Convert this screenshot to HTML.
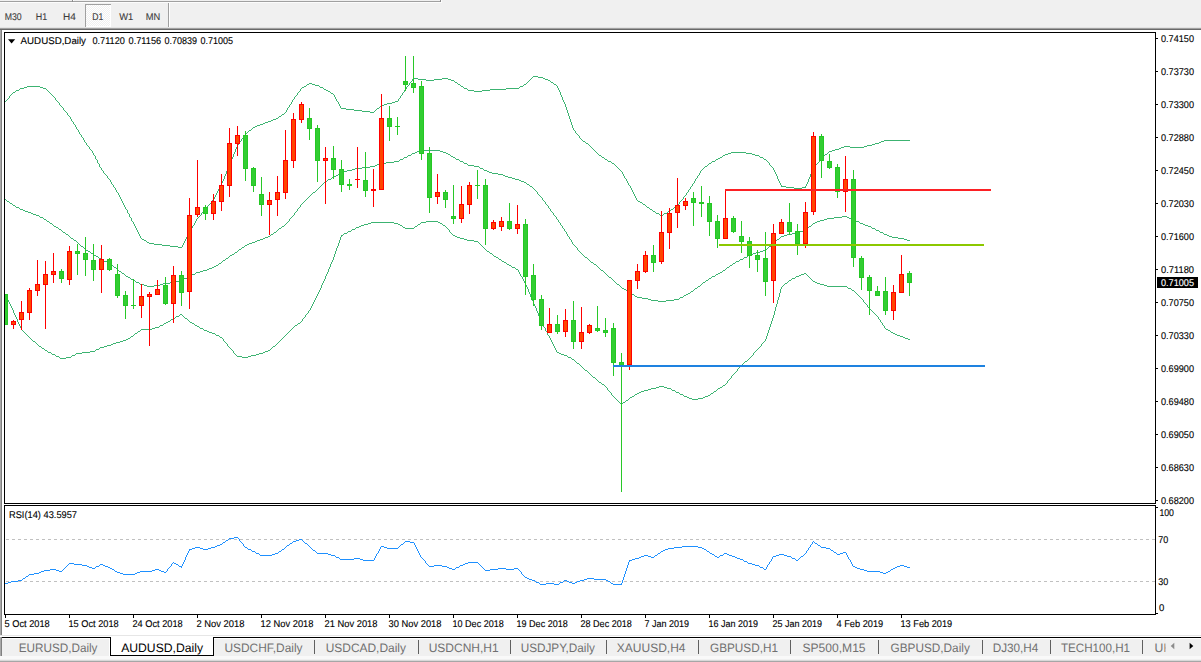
<!DOCTYPE html>
<html><head><meta charset="utf-8"><title>AUDUSD,Daily</title>
<style>html,body{margin:0;padding:0;background:#fff;overflow:hidden}svg{display:block}text{font-family:"Liberation Sans",sans-serif}</style>
</head><body>
<svg width="1201" height="662" viewBox="0 0 1201 662">
<defs><pattern id="chk" width="2" height="2" patternUnits="userSpaceOnUse"><rect width="2" height="2" fill="#f0f0f0"/><rect width="1" height="1" fill="#fff"/><rect x="1" y="1" width="1" height="1" fill="#fff"/></pattern>
<clipPath id="cp"><rect x="5" y="33" width="1150" height="470"/></clipPath></defs>
<rect width="1201" height="662" fill="#fff"/>
<g shape-rendering="crispEdges">
<rect x="0" y="0" width="1201" height="28" fill="#f0f0f0"/>
<rect x="0" y="1" width="441" height="1" fill="#a0a0a0"/>
<rect x="0" y="2" width="442" height="1" fill="#fcfcfc"/>
<rect x="72" y="0" width="1" height="2" fill="#8c8c8c"/><rect x="73" y="0" width="1" height="1" fill="#fff"/>
<rect x="440" y="0" width="1" height="2" fill="#8c8c8c"/><rect x="441" y="0" width="1" height="3" fill="#fcfcfc"/>
<rect x="0" y="27" width="1201" height="1" fill="#e3e3e3"/>
<rect x="0" y="28" width="1201" height="1" fill="#a0a0a0"/>
<rect x="0" y="29" width="1201" height="1" fill="#696969"/>
<rect x="85" y="4" width="26" height="23" fill="url(#chk)"/>
<rect x="85" y="4" width="26" height="1" fill="#a0a0a0"/><rect x="85" y="4" width="1" height="23" fill="#a0a0a0"/>
<rect x="110" y="5" width="1" height="22" fill="#fff"/><rect x="86" y="26" width="25" height="1" fill="#fff"/>
<rect x="168" y="3" width="1" height="24" fill="#a0a0a0"/><rect x="169" y="3" width="1" height="24" fill="#fff"/>
<rect x="0" y="30" width="1" height="606" fill="#a8a8a8"/><rect x="1" y="30" width="1" height="606" fill="#808080"/>
</g>
<text x="4.7" y="19.7" text-rendering="geometricPrecision" font-size="9.8" fill="#3c3c3c" stroke="#3c3c3c" stroke-width="0.1" textLength="17.0" lengthAdjust="spacingAndGlyphs">M30</text>
<text x="35.8" y="19.7" text-rendering="geometricPrecision" font-size="9.8" fill="#3c3c3c" stroke="#3c3c3c" stroke-width="0.1" textLength="11.4" lengthAdjust="spacingAndGlyphs">H1</text>
<text x="63" y="19.7" text-rendering="geometricPrecision" font-size="9.8" fill="#3c3c3c" stroke="#3c3c3c" stroke-width="0.1" textLength="12.8" lengthAdjust="spacingAndGlyphs">H4</text>
<text x="92.2" y="19.7" text-rendering="geometricPrecision" font-size="9.8" fill="#3c3c3c" stroke="#3c3c3c" stroke-width="0.1" textLength="11.1" lengthAdjust="spacingAndGlyphs">D1</text>
<text x="119.2" y="19.7" text-rendering="geometricPrecision" font-size="9.8" fill="#3c3c3c" stroke="#3c3c3c" stroke-width="0.1" textLength="14.1" lengthAdjust="spacingAndGlyphs">W1</text>
<text x="145.8" y="19.7" text-rendering="geometricPrecision" font-size="9.8" fill="#3c3c3c" stroke="#3c3c3c" stroke-width="0.1" textLength="14.5" lengthAdjust="spacingAndGlyphs">MN</text>
<g shape-rendering="crispEdges" fill="#000">
<rect x="4" y="32" width="1152" height="1"/>
<rect x="4" y="32" width="1" height="472"/>
<rect x="4" y="503" width="1152" height="1"/>
<rect x="1155" y="32" width="1" height="472"/>
<rect x="4" y="505" width="1152" height="1"/>
<rect x="4" y="505" width="1" height="110"/>
<rect x="4" y="614" width="1152" height="1"/>
<rect x="1155" y="505" width="1" height="110"/>
<rect x="1156" y="38" width="2" height="1"/>
<rect x="1156" y="71" width="2" height="1"/>
<rect x="1156" y="104" width="2" height="1"/>
<rect x="1156" y="137" width="2" height="1"/>
<rect x="1156" y="170" width="2" height="1"/>
<rect x="1156" y="203" width="2" height="1"/>
<rect x="1156" y="236" width="2" height="1"/>
<rect x="1156" y="269" width="2" height="1"/>
<rect x="1156" y="302" width="2" height="1"/>
<rect x="1156" y="335" width="2" height="1"/>
<rect x="1156" y="368" width="2" height="1"/>
<rect x="1156" y="401" width="2" height="1"/>
<rect x="1156" y="434" width="2" height="1"/>
<rect x="1156" y="467" width="2" height="1"/>
<rect x="1156" y="500" width="2" height="1"/>
<rect x="1156" y="507" width="2" height="1"/><rect x="1156" y="613" width="2" height="1"/>
<rect x="5" y="615" width="1" height="3"/>
<rect x="69" y="615" width="1" height="3"/>
<rect x="133" y="615" width="1" height="3"/>
<rect x="197" y="615" width="1" height="3"/>
<rect x="261" y="615" width="1" height="3"/>
<rect x="325" y="615" width="1" height="3"/>
<rect x="389" y="615" width="1" height="3"/>
<rect x="453" y="615" width="1" height="3"/>
<rect x="517" y="615" width="1" height="3"/>
<rect x="581" y="615" width="1" height="3"/>
<rect x="645" y="615" width="1" height="3"/>
<rect x="709" y="615" width="1" height="3"/>
<rect x="773" y="615" width="1" height="3"/>
<rect x="837" y="615" width="1" height="3"/>
<rect x="901" y="615" width="1" height="3"/>
<rect x="1157" y="277" width="41" height="11"/>
</g>
<text x="1161" y="42" text-rendering="geometricPrecision" font-size="9.8" fill="#000" stroke="#000" stroke-width="0.12" textLength="33" lengthAdjust="spacingAndGlyphs">0.74150</text>
<text x="1161" y="75" text-rendering="geometricPrecision" font-size="9.8" fill="#000" stroke="#000" stroke-width="0.12" textLength="33" lengthAdjust="spacingAndGlyphs">0.73730</text>
<text x="1161" y="108" text-rendering="geometricPrecision" font-size="9.8" fill="#000" stroke="#000" stroke-width="0.12" textLength="33" lengthAdjust="spacingAndGlyphs">0.73300</text>
<text x="1161" y="141" text-rendering="geometricPrecision" font-size="9.8" fill="#000" stroke="#000" stroke-width="0.12" textLength="33" lengthAdjust="spacingAndGlyphs">0.72880</text>
<text x="1161" y="174" text-rendering="geometricPrecision" font-size="9.8" fill="#000" stroke="#000" stroke-width="0.12" textLength="33" lengthAdjust="spacingAndGlyphs">0.72450</text>
<text x="1161" y="207" text-rendering="geometricPrecision" font-size="9.8" fill="#000" stroke="#000" stroke-width="0.12" textLength="33" lengthAdjust="spacingAndGlyphs">0.72030</text>
<text x="1161" y="240" text-rendering="geometricPrecision" font-size="9.8" fill="#000" stroke="#000" stroke-width="0.12" textLength="33" lengthAdjust="spacingAndGlyphs">0.71600</text>
<text x="1161" y="273" text-rendering="geometricPrecision" font-size="9.8" fill="#000" stroke="#000" stroke-width="0.12" textLength="33" lengthAdjust="spacingAndGlyphs">0.71180</text>
<text x="1161" y="306" text-rendering="geometricPrecision" font-size="9.8" fill="#000" stroke="#000" stroke-width="0.12" textLength="33" lengthAdjust="spacingAndGlyphs">0.70750</text>
<text x="1161" y="339" text-rendering="geometricPrecision" font-size="9.8" fill="#000" stroke="#000" stroke-width="0.12" textLength="33" lengthAdjust="spacingAndGlyphs">0.70330</text>
<text x="1161" y="372" text-rendering="geometricPrecision" font-size="9.8" fill="#000" stroke="#000" stroke-width="0.12" textLength="33" lengthAdjust="spacingAndGlyphs">0.69900</text>
<text x="1161" y="405" text-rendering="geometricPrecision" font-size="9.8" fill="#000" stroke="#000" stroke-width="0.12" textLength="33" lengthAdjust="spacingAndGlyphs">0.69480</text>
<text x="1161" y="438" text-rendering="geometricPrecision" font-size="9.8" fill="#000" stroke="#000" stroke-width="0.12" textLength="33" lengthAdjust="spacingAndGlyphs">0.69050</text>
<text x="1161" y="471" text-rendering="geometricPrecision" font-size="9.8" fill="#000" stroke="#000" stroke-width="0.12" textLength="33" lengthAdjust="spacingAndGlyphs">0.68630</text>
<text x="1161" y="504" text-rendering="geometricPrecision" font-size="9.8" fill="#000" stroke="#000" stroke-width="0.12" textLength="33" lengthAdjust="spacingAndGlyphs">0.68200</text>
<text x="1161" y="286.3" text-rendering="geometricPrecision" font-size="9.8" fill="#fff" stroke="#fff" stroke-width="0.12" textLength="33" lengthAdjust="spacingAndGlyphs">0.71005</text>
<text x="1159.4" y="516" text-rendering="geometricPrecision" font-size="9.8" fill="#000" stroke="#000" stroke-width="0.12" textLength="14.6" lengthAdjust="spacingAndGlyphs">100</text>
<text x="1158.2" y="543.2" text-rendering="geometricPrecision" font-size="9.8" fill="#000" stroke="#000" stroke-width="0.12" textLength="10" lengthAdjust="spacingAndGlyphs">70</text>
<text x="1158.2" y="585.3" text-rendering="geometricPrecision" font-size="9.8" fill="#000" stroke="#000" stroke-width="0.12" textLength="10" lengthAdjust="spacingAndGlyphs">30</text>
<text x="1158.9" y="611.2" text-rendering="geometricPrecision" font-size="9.8" fill="#000" stroke="#000" stroke-width="0.12" textLength="5.3" lengthAdjust="spacingAndGlyphs">0</text>
<text x="4.5" y="627" text-rendering="geometricPrecision" font-size="9.8" fill="#000" stroke="#000" stroke-width="0.12" textLength="45.2" lengthAdjust="spacingAndGlyphs">5 Oct 2018</text>
<text x="68.5" y="627" text-rendering="geometricPrecision" font-size="9.8" fill="#000" stroke="#000" stroke-width="0.12" textLength="50.2" lengthAdjust="spacingAndGlyphs">15 Oct 2018</text>
<text x="132.5" y="627" text-rendering="geometricPrecision" font-size="9.8" fill="#000" stroke="#000" stroke-width="0.12" textLength="50.2" lengthAdjust="spacingAndGlyphs">24 Oct 2018</text>
<text x="196.5" y="627" text-rendering="geometricPrecision" font-size="9.8" fill="#000" stroke="#000" stroke-width="0.12" textLength="48" lengthAdjust="spacingAndGlyphs">2 Nov 2018</text>
<text x="260.5" y="627" text-rendering="geometricPrecision" font-size="9.8" fill="#000" stroke="#000" stroke-width="0.12" textLength="53" lengthAdjust="spacingAndGlyphs">12 Nov 2018</text>
<text x="324.5" y="627" text-rendering="geometricPrecision" font-size="9.8" fill="#000" stroke="#000" stroke-width="0.12" textLength="53" lengthAdjust="spacingAndGlyphs">21 Nov 2018</text>
<text x="388.5" y="627" text-rendering="geometricPrecision" font-size="9.8" fill="#000" stroke="#000" stroke-width="0.12" textLength="53" lengthAdjust="spacingAndGlyphs">30 Nov 2018</text>
<text x="452.5" y="627" text-rendering="geometricPrecision" font-size="9.8" fill="#000" stroke="#000" stroke-width="0.12" textLength="51.3" lengthAdjust="spacingAndGlyphs">10 Dec 2018</text>
<text x="516.5" y="627" text-rendering="geometricPrecision" font-size="9.8" fill="#000" stroke="#000" stroke-width="0.12" textLength="51.3" lengthAdjust="spacingAndGlyphs">19 Dec 2018</text>
<text x="580.5" y="627" text-rendering="geometricPrecision" font-size="9.8" fill="#000" stroke="#000" stroke-width="0.12" textLength="51.3" lengthAdjust="spacingAndGlyphs">28 Dec 2018</text>
<text x="644.5" y="627" text-rendering="geometricPrecision" font-size="9.8" fill="#000" stroke="#000" stroke-width="0.12" textLength="44.6" lengthAdjust="spacingAndGlyphs">7 Jan 2019</text>
<text x="708.5" y="627" text-rendering="geometricPrecision" font-size="9.8" fill="#000" stroke="#000" stroke-width="0.12" textLength="49.6" lengthAdjust="spacingAndGlyphs">16 Jan 2019</text>
<text x="772.5" y="627" text-rendering="geometricPrecision" font-size="9.8" fill="#000" stroke="#000" stroke-width="0.12" textLength="49.6" lengthAdjust="spacingAndGlyphs">25 Jan 2019</text>
<text x="836.5" y="627" text-rendering="geometricPrecision" font-size="9.8" fill="#000" stroke="#000" stroke-width="0.12" textLength="46.7" lengthAdjust="spacingAndGlyphs">4 Feb 2019</text>
<text x="900.5" y="627" text-rendering="geometricPrecision" font-size="9.8" fill="#000" stroke="#000" stroke-width="0.12" textLength="51.7" lengthAdjust="spacingAndGlyphs">13 Feb 2019</text>
<path d="M8 39.2h7.2l-3.6 4.3z" fill="#000"/>
<text x="20.6" y="44" text-rendering="geometricPrecision" font-size="9.8" fill="#000" stroke="#000" stroke-width="0.12" textLength="65.4" lengthAdjust="spacingAndGlyphs">AUDUSD,Daily</text>
<text x="92.4" y="44" text-rendering="geometricPrecision" font-size="9.8" fill="#000" stroke="#000" stroke-width="0.12" textLength="32.5" lengthAdjust="spacingAndGlyphs">0.71120</text>
<text x="128.6" y="44" text-rendering="geometricPrecision" font-size="9.8" fill="#000" stroke="#000" stroke-width="0.12" textLength="32.5" lengthAdjust="spacingAndGlyphs">0.71156</text>
<text x="164.6" y="44" text-rendering="geometricPrecision" font-size="9.8" fill="#000" stroke="#000" stroke-width="0.12" textLength="32.5" lengthAdjust="spacingAndGlyphs">0.70839</text>
<text x="200.6" y="44" text-rendering="geometricPrecision" font-size="9.8" fill="#000" stroke="#000" stroke-width="0.12" textLength="32.5" lengthAdjust="spacingAndGlyphs">0.71005</text>
<text x="9" y="518" text-rendering="geometricPrecision" font-size="9.8" fill="#000" stroke="#000" stroke-width="0.12" textLength="68" lengthAdjust="spacingAndGlyphs">RSI(14) 43.5957</text>
<g clip-path="url(#cp)" shape-rendering="crispEdges">
<path d="M533 76h5v1h-5zM532 77h1v1h-1zM538 77h5v1h-5zM413 78h5v1h-5zM442 78h6v1h-6zM531 78h1v1h-1zM543 78h2v1h-2zM412 79h1v1h-1zM418 79h8v1h-8zM434 79h8v1h-8zM448 79h3v1h-3zM530 79h1v1h-1zM545 79h3v1h-3zM412 80h1v1h-1zM426 80h8v1h-8zM451 80h3v1h-3zM529 80h1v1h-1zM548 80h2v1h-2zM411 81h1v1h-1zM454 81h1v1h-1zM528 81h1v1h-1zM550 81h1v1h-1zM410 82h1v1h-1zM455 82h2v1h-2zM527 82h1v1h-1zM551 82h2v1h-2zM309 83h3v1h-3zM409 83h1v1h-1zM457 83h1v1h-1zM526 83h1v1h-1zM553 83h1v1h-1zM307 84h2v1h-2zM312 84h3v1h-3zM409 84h1v1h-1zM458 84h2v1h-2zM524 84h2v1h-2zM554 84h2v1h-2zM306 85h1v1h-1zM315 85h4v1h-4zM408 85h1v1h-1zM460 85h1v1h-1zM523 85h1v1h-1zM556 85h1v1h-1zM27 86h13v1h-13zM304 86h2v1h-2zM319 86h1v1h-1zM407 86h1v1h-1zM461 86h2v1h-2zM520 86h3v1h-3zM557 86h1v1h-1zM24 87h3v1h-3zM40 87h3v1h-3zM302 87h2v1h-2zM320 87h3v1h-3zM406 87h1v1h-1zM463 87h1v1h-1zM519 87h1v1h-1zM557 87h1v1h-1zM20 88h4v1h-4zM43 88h3v1h-3zM301 88h1v1h-1zM323 88h1v1h-1zM406 88h1v1h-1zM464 88h3v1h-3zM506 88h13v1h-13zM558 88h1v1h-1zM19 89h1v1h-1zM46 89h1v1h-1zM300 89h1v1h-1zM324 89h2v1h-2zM405 89h1v1h-1zM467 89h1v1h-1zM490 89h16v1h-16zM558 89h1v1h-1zM16 90h3v1h-3zM47 90h1v1h-1zM300 90h1v1h-1zM326 90h2v1h-2zM404 90h1v1h-1zM468 90h6v1h-6zM482 90h8v1h-8zM559 90h1v1h-1zM15 91h1v1h-1zM48 91h1v1h-1zM299 91h1v1h-1zM328 91h2v1h-2zM404 91h1v1h-1zM474 91h8v1h-8zM559 91h1v1h-1zM13 92h2v1h-2zM49 92h1v1h-1zM298 92h1v1h-1zM330 92h1v1h-1zM403 92h1v1h-1zM560 92h1v1h-1zM12 93h1v1h-1zM50 93h1v1h-1zM297 93h1v1h-1zM331 93h2v1h-2zM402 93h1v1h-1zM560 93h1v1h-1zM11 94h1v1h-1zM51 94h1v1h-1zM297 94h1v1h-1zM333 94h1v1h-1zM402 94h1v1h-1zM560 94h1v1h-1zM10 95h1v1h-1zM52 95h1v1h-1zM296 95h1v1h-1zM334 95h1v1h-1zM401 95h1v1h-1zM561 95h1v1h-1zM9 96h1v1h-1zM53 96h1v1h-1zM295 96h1v1h-1zM334 96h1v1h-1zM400 96h1v1h-1zM561 96h1v1h-1zM9 97h1v1h-1zM54 97h1v1h-1zM294 97h1v1h-1zM335 97h1v1h-1zM400 97h1v1h-1zM562 97h1v1h-1zM8 98h1v1h-1zM55 98h1v1h-1zM294 98h1v1h-1zM335 98h1v1h-1zM399 98h1v1h-1zM562 98h1v1h-1zM7 99h1v1h-1zM55 99h1v1h-1zM293 99h1v1h-1zM336 99h1v1h-1zM398 99h1v1h-1zM562 99h1v1h-1zM6 100h1v1h-1zM56 100h1v1h-1zM292 100h1v1h-1zM336 100h1v1h-1zM398 100h1v1h-1zM563 100h1v1h-1zM5 101h1v1h-1zM57 101h1v1h-1zM292 101h1v1h-1zM337 101h1v1h-1zM395 101h3v1h-3zM563 101h1v1h-1zM58 102h1v1h-1zM291 102h1v1h-1zM338 102h1v1h-1zM392 102h3v1h-3zM564 102h1v1h-1zM59 103h1v1h-1zM291 103h1v1h-1zM338 103h1v1h-1zM387 103h5v1h-5zM564 103h1v1h-1zM59 104h1v1h-1zM290 104h1v1h-1zM339 104h1v1h-1zM384 104h3v1h-3zM565 104h1v1h-1zM60 105h1v1h-1zM289 105h1v1h-1zM339 105h1v1h-1zM381 105h3v1h-3zM565 105h1v1h-1zM61 106h1v1h-1zM289 106h1v1h-1zM340 106h1v1h-1zM380 106h1v1h-1zM565 106h1v1h-1zM62 107h1v1h-1zM288 107h1v1h-1zM340 107h1v1h-1zM379 107h1v1h-1zM566 107h1v1h-1zM63 108h1v1h-1zM287 108h1v1h-1zM341 108h5v1h-5zM377 108h2v1h-2zM566 108h1v1h-1zM63 109h1v1h-1zM287 109h1v1h-1zM346 109h8v1h-8zM376 109h1v1h-1zM566 109h1v1h-1zM64 110h1v1h-1zM286 110h1v1h-1zM354 110h8v1h-8zM375 110h1v1h-1zM567 110h1v1h-1zM65 111h1v1h-1zM286 111h1v1h-1zM362 111h8v1h-8zM374 111h1v1h-1zM567 111h1v1h-1zM66 112h1v1h-1zM285 112h1v1h-1zM370 112h4v1h-4zM567 112h1v1h-1zM67 113h1v1h-1zM284 113h1v1h-1zM568 113h1v1h-1zM67 114h1v1h-1zM282 114h2v1h-2zM568 114h1v1h-1zM68 115h1v1h-1zM281 115h1v1h-1zM568 115h1v1h-1zM69 116h1v1h-1zM279 116h2v1h-2zM569 116h1v1h-1zM70 117h1v1h-1zM278 117h1v1h-1zM569 117h1v1h-1zM70 118h1v1h-1zM276 118h2v1h-2zM569 118h1v1h-1zM71 119h1v1h-1zM273 119h3v1h-3zM570 119h1v1h-1zM71 120h1v1h-1zM271 120h2v1h-2zM570 120h1v1h-1zM72 121h1v1h-1zM268 121h3v1h-3zM570 121h1v1h-1zM73 122h1v1h-1zM265 122h3v1h-3zM571 122h1v1h-1zM73 123h1v1h-1zM263 123h2v1h-2zM571 123h1v1h-1zM74 124h1v1h-1zM260 124h3v1h-3zM571 124h1v1h-1zM75 125h1v1h-1zM257 125h3v1h-3zM572 125h1v1h-1zM75 126h1v1h-1zM255 126h2v1h-2zM572 126h1v1h-1zM76 127h1v1h-1zM253 127h2v1h-2zM572 127h1v1h-1zM76 128h1v1h-1zM252 128h1v1h-1zM573 128h1v1h-1zM77 129h1v1h-1zM251 129h1v1h-1zM573 129h1v1h-1zM78 130h1v1h-1zM249 130h2v1h-2zM574 130h1v1h-1zM78 131h1v1h-1zM248 131h1v1h-1zM575 131h1v1h-1zM79 132h1v1h-1zM247 132h1v1h-1zM575 132h1v1h-1zM79 133h1v1h-1zM246 133h1v1h-1zM576 133h1v1h-1zM80 134h1v1h-1zM245 134h1v1h-1zM577 134h1v1h-1zM81 135h1v1h-1zM244 135h1v1h-1zM578 135h1v1h-1zM81 136h1v1h-1zM244 136h1v1h-1zM579 136h1v1h-1zM82 137h1v1h-1zM243 137h1v1h-1zM579 137h1v1h-1zM83 138h1v1h-1zM242 138h1v1h-1zM580 138h1v1h-1zM83 139h1v1h-1zM241 139h1v1h-1zM581 139h1v1h-1zM84 140h1v1h-1zM241 140h1v1h-1zM582 140h1v1h-1zM884 140h26v1h-26zM84 141h1v1h-1zM240 141h1v1h-1zM583 141h2v1h-2zM881 141h3v1h-3zM85 142h1v1h-1zM239 142h1v1h-1zM585 142h1v1h-1zM879 142h2v1h-2zM86 143h1v1h-1zM238 143h1v1h-1zM586 143h2v1h-2zM875 143h4v1h-4zM86 144h1v1h-1zM238 144h1v1h-1zM588 144h1v1h-1zM872 144h3v1h-3zM87 145h1v1h-1zM237 145h1v1h-1zM589 145h1v1h-1zM867 145h5v1h-5zM88 146h1v1h-1zM237 146h1v1h-1zM590 146h1v1h-1zM844 146h6v1h-6zM864 146h3v1h-3zM89 147h1v1h-1zM236 147h1v1h-1zM591 147h1v1h-1zM841 147h3v1h-3zM850 147h14v1h-14zM89 148h1v1h-1zM236 148h1v1h-1zM592 148h1v1h-1zM839 148h2v1h-2zM90 149h1v1h-1zM235 149h1v1h-1zM593 149h1v1h-1zM835 149h4v1h-4zM91 150h1v1h-1zM235 150h1v1h-1zM594 150h1v1h-1zM832 150h3v1h-3zM92 151h1v1h-1zM235 151h1v1h-1zM595 151h1v1h-1zM829 151h3v1h-3zM92 152h1v1h-1zM234 152h1v1h-1zM596 152h1v1h-1zM731 152h15v1h-15zM828 152h1v1h-1zM93 153h1v1h-1zM234 153h1v1h-1zM597 153h1v1h-1zM728 153h3v1h-3zM746 153h6v1h-6zM827 153h1v1h-1zM93 154h1v1h-1zM233 154h1v1h-1zM598 154h1v1h-1zM725 154h3v1h-3zM752 154h3v1h-3zM825 154h2v1h-2zM94 155h1v1h-1zM233 155h1v1h-1zM599 155h2v1h-2zM723 155h2v1h-2zM755 155h4v1h-4zM824 155h1v1h-1zM95 156h1v1h-1zM233 156h1v1h-1zM601 156h1v1h-1zM722 156h1v1h-1zM759 156h1v1h-1zM823 156h1v1h-1zM95 157h1v1h-1zM232 157h1v1h-1zM602 157h2v1h-2zM720 157h2v1h-2zM760 157h3v1h-3zM822 157h1v1h-1zM95 158h1v1h-1zM232 158h1v1h-1zM604 158h1v1h-1zM718 158h2v1h-2zM763 158h1v1h-1zM821 158h1v1h-1zM96 159h1v1h-1zM231 159h1v1h-1zM605 159h2v1h-2zM716 159h2v1h-2zM764 159h2v1h-2zM820 159h1v1h-1zM97 160h1v1h-1zM231 160h1v1h-1zM607 160h1v1h-1zM715 160h1v1h-1zM766 160h1v1h-1zM819 160h1v1h-1zM97 161h1v1h-1zM231 161h1v1h-1zM608 161h3v1h-3zM712 161h3v1h-3zM767 161h1v1h-1zM819 161h1v1h-1zM97 162h1v1h-1zM230 162h1v1h-1zM611 162h1v1h-1zM711 162h1v1h-1zM768 162h1v1h-1zM818 162h1v1h-1zM98 163h1v1h-1zM230 163h1v1h-1zM612 163h2v1h-2zM709 163h2v1h-2zM769 163h1v1h-1zM817 163h1v1h-1zM99 164h1v1h-1zM229 164h1v1h-1zM614 164h1v1h-1zM708 164h1v1h-1zM769 164h1v1h-1zM816 164h1v1h-1zM99 165h1v1h-1zM229 165h1v1h-1zM615 165h1v1h-1zM707 165h1v1h-1zM770 165h1v1h-1zM815 165h1v1h-1zM99 166h1v1h-1zM229 166h1v1h-1zM616 166h1v1h-1zM705 166h2v1h-2zM771 166h1v1h-1zM815 166h1v1h-1zM100 167h1v1h-1zM228 167h1v1h-1zM617 167h1v1h-1zM704 167h1v1h-1zM772 167h1v1h-1zM814 167h1v1h-1zM101 168h1v1h-1zM228 168h1v1h-1zM618 168h1v1h-1zM703 168h1v1h-1zM773 168h1v1h-1zM813 168h1v1h-1zM101 169h1v1h-1zM227 169h1v1h-1zM619 169h1v1h-1zM702 169h1v1h-1zM773 169h1v1h-1zM813 169h1v1h-1zM102 170h1v1h-1zM227 170h1v1h-1zM620 170h1v1h-1zM701 170h1v1h-1zM774 170h1v1h-1zM812 170h1v1h-1zM103 171h1v1h-1zM226 171h1v1h-1zM621 171h1v1h-1zM700 171h1v1h-1zM774 171h1v1h-1zM812 171h1v1h-1zM103 172h1v1h-1zM226 172h1v1h-1zM622 172h1v1h-1zM700 172h1v1h-1zM775 172h1v1h-1zM811 172h1v1h-1zM104 173h1v1h-1zM226 173h1v1h-1zM622 173h1v1h-1zM699 173h1v1h-1zM775 173h1v1h-1zM811 173h1v1h-1zM105 174h1v1h-1zM225 174h1v1h-1zM623 174h1v1h-1zM699 174h1v1h-1zM776 174h1v1h-1zM810 174h1v1h-1zM106 175h1v1h-1zM225 175h1v1h-1zM623 175h1v1h-1zM698 175h1v1h-1zM776 175h1v1h-1zM810 175h1v1h-1zM107 176h1v1h-1zM224 176h1v1h-1zM624 176h1v1h-1zM697 176h1v1h-1zM777 176h1v1h-1zM810 176h1v1h-1zM107 177h1v1h-1zM224 177h1v1h-1zM624 177h1v1h-1zM697 177h1v1h-1zM777 177h1v1h-1zM809 177h1v1h-1zM108 178h1v1h-1zM224 178h1v1h-1zM625 178h1v1h-1zM696 178h1v1h-1zM777 178h1v1h-1zM809 178h1v1h-1zM109 179h1v1h-1zM223 179h1v1h-1zM626 179h1v1h-1zM695 179h1v1h-1zM778 179h1v1h-1zM808 179h1v1h-1zM110 180h1v1h-1zM223 180h1v1h-1zM626 180h1v1h-1zM695 180h1v1h-1zM778 180h1v1h-1zM808 180h1v1h-1zM110 181h1v1h-1zM222 181h1v1h-1zM627 181h1v1h-1zM694 181h1v1h-1zM779 181h1v1h-1zM808 181h1v1h-1zM111 182h1v1h-1zM222 182h1v1h-1zM627 182h1v1h-1zM694 182h1v1h-1zM779 182h1v1h-1zM807 182h1v1h-1zM111 183h1v1h-1zM221 183h1v1h-1zM628 183h1v1h-1zM693 183h1v1h-1zM780 183h1v1h-1zM807 183h1v1h-1zM112 184h1v1h-1zM221 184h1v1h-1zM628 184h1v1h-1zM692 184h1v1h-1zM780 184h1v1h-1zM806 184h1v1h-1zM113 185h1v1h-1zM220 185h1v1h-1zM629 185h1v1h-1zM692 185h1v1h-1zM781 185h1v1h-1zM806 185h1v1h-1zM113 186h1v1h-1zM220 186h1v1h-1zM630 186h1v1h-1zM691 186h1v1h-1zM781 186h5v1h-5zM805 186h1v1h-1zM114 187h1v1h-1zM219 187h1v1h-1zM630 187h1v1h-1zM690 187h1v1h-1zM786 187h8v1h-8zM802 187h4v1h-4zM115 188h1v1h-1zM219 188h1v1h-1zM631 188h1v1h-1zM690 188h1v1h-1zM794 188h8v1h-8zM115 189h1v1h-1zM218 189h1v1h-1zM631 189h1v1h-1zM689 189h1v1h-1zM116 190h1v1h-1zM218 190h1v1h-1zM632 190h1v1h-1zM688 190h1v1h-1zM116 191h1v1h-1zM217 191h1v1h-1zM632 191h1v1h-1zM688 191h1v1h-1zM117 192h1v1h-1zM217 192h1v1h-1zM633 192h1v1h-1zM687 192h1v1h-1zM118 193h1v1h-1zM216 193h1v1h-1zM633 193h1v1h-1zM686 193h1v1h-1zM118 194h1v1h-1zM216 194h1v1h-1zM634 194h1v1h-1zM686 194h1v1h-1zM119 195h1v1h-1zM215 195h1v1h-1zM634 195h1v1h-1zM685 195h1v1h-1zM119 196h1v1h-1zM215 196h1v1h-1zM635 196h1v1h-1zM684 196h1v1h-1zM120 197h1v1h-1zM214 197h1v1h-1zM635 197h1v1h-1zM683 197h1v1h-1zM120 198h1v1h-1zM214 198h1v1h-1zM636 198h1v1h-1zM683 198h1v1h-1zM121 199h1v1h-1zM213 199h1v1h-1zM636 199h1v1h-1zM682 199h1v1h-1zM121 200h1v1h-1zM212 200h1v1h-1zM637 200h1v1h-1zM681 200h1v1h-1zM122 201h1v1h-1zM211 201h1v1h-1zM638 201h2v1h-2zM680 201h1v1h-1zM122 202h1v1h-1zM211 202h1v1h-1zM640 202h2v1h-2zM679 202h1v1h-1zM123 203h1v1h-1zM210 203h1v1h-1zM642 203h1v1h-1zM679 203h1v1h-1zM123 204h1v1h-1zM209 204h1v1h-1zM643 204h2v1h-2zM678 204h1v1h-1zM124 205h1v1h-1zM208 205h1v1h-1zM645 205h1v1h-1zM677 205h1v1h-1zM124 206h1v1h-1zM207 206h1v1h-1zM646 206h1v1h-1zM676 206h1v1h-1zM125 207h1v1h-1zM207 207h1v1h-1zM647 207h2v1h-2zM674 207h2v1h-2zM125 208h1v1h-1zM206 208h1v1h-1zM649 208h1v1h-1zM673 208h1v1h-1zM126 209h1v1h-1zM205 209h1v1h-1zM650 209h2v1h-2zM671 209h2v1h-2zM127 210h1v1h-1zM204 210h1v1h-1zM652 210h1v1h-1zM670 210h1v1h-1zM127 211h1v1h-1zM203 211h1v1h-1zM653 211h2v1h-2zM668 211h2v1h-2zM127 212h1v1h-1zM202 212h1v1h-1zM655 212h1v1h-1zM667 212h1v1h-1zM128 213h1v1h-1zM201 213h1v1h-1zM656 213h3v1h-3zM664 213h3v1h-3zM129 214h1v1h-1zM201 214h1v1h-1zM659 214h1v1h-1zM663 214h1v1h-1zM129 215h1v1h-1zM200 215h1v1h-1zM660 215h3v1h-3zM129 216h1v1h-1zM199 216h1v1h-1zM130 217h1v1h-1zM198 217h1v1h-1zM131 218h1v1h-1zM197 218h1v1h-1zM131 219h1v1h-1zM196 219h1v1h-1zM131 220h1v1h-1zM196 220h1v1h-1zM132 221h1v1h-1zM195 221h1v1h-1zM133 222h1v1h-1zM195 222h1v1h-1zM133 223h1v1h-1zM194 223h1v1h-1zM134 224h1v1h-1zM194 224h1v1h-1zM134 225h1v1h-1zM193 225h1v1h-1zM135 226h1v1h-1zM192 226h1v1h-1zM135 227h1v1h-1zM192 227h1v1h-1zM136 228h1v1h-1zM191 228h1v1h-1zM136 229h1v1h-1zM191 229h1v1h-1zM137 230h1v1h-1zM190 230h1v1h-1zM137 231h1v1h-1zM190 231h1v1h-1zM138 232h1v1h-1zM189 232h1v1h-1zM138 233h1v1h-1zM188 233h1v1h-1zM139 234h1v1h-1zM188 234h1v1h-1zM139 235h1v1h-1zM187 235h1v1h-1zM140 236h1v1h-1zM187 236h1v1h-1zM140 237h1v1h-1zM186 237h1v1h-1zM141 238h1v1h-1zM186 238h1v1h-1zM142 239h2v1h-2zM185 239h1v1h-1zM144 240h2v1h-2zM185 240h1v1h-1zM146 241h1v1h-1zM184 241h1v1h-1zM147 242h2v1h-2zM184 242h1v1h-1zM149 243h5v1h-5zM183 243h1v1h-1zM154 244h8v1h-8zM183 244h1v1h-1zM162 245h8v1h-8zM182 245h1v1h-1zM170 246h8v1h-8zM182 246h1v1h-1zM178 247h4v1h-4z" fill="#3cb371"/>
<path d="M420 150h20v1h-20zM417 151h3v1h-3zM440 151h3v1h-3zM415 152h2v1h-2zM443 152h3v1h-3zM412 153h3v1h-3zM446 153h2v1h-2zM411 154h1v1h-1zM448 154h2v1h-2zM408 155h3v1h-3zM450 155h1v1h-1zM407 156h1v1h-1zM451 156h2v1h-2zM404 157h3v1h-3zM453 157h2v1h-2zM403 158h1v1h-1zM455 158h1v1h-1zM400 159h3v1h-3zM456 159h3v1h-3zM399 160h1v1h-1zM459 160h1v1h-1zM394 161h5v1h-5zM460 161h3v1h-3zM386 162h8v1h-8zM463 162h1v1h-1zM380 163h6v1h-6zM464 163h3v1h-3zM377 164h3v1h-3zM467 164h1v1h-1zM375 165h2v1h-2zM468 165h6v1h-6zM370 166h5v1h-5zM474 166h5v1h-5zM362 167h8v1h-8zM479 167h1v1h-1zM355 168h7v1h-7zM480 168h3v1h-3zM352 169h3v1h-3zM483 169h1v1h-1zM347 170h5v1h-5zM484 170h3v1h-3zM344 171h3v1h-3zM487 171h2v1h-2zM341 172h3v1h-3zM489 172h3v1h-3zM339 173h2v1h-2zM492 173h6v1h-6zM338 174h1v1h-1zM498 174h5v1h-5zM336 175h2v1h-2zM503 175h2v1h-2zM334 176h2v1h-2zM505 176h3v1h-3zM332 177h2v1h-2zM508 177h4v1h-4zM331 178h1v1h-1zM512 178h3v1h-3zM328 179h3v1h-3zM515 179h4v1h-4zM327 180h1v1h-1zM519 180h2v1h-2zM325 181h2v1h-2zM521 181h3v1h-3zM324 182h1v1h-1zM524 182h2v1h-2zM323 183h1v1h-1zM526 183h1v1h-1zM322 184h1v1h-1zM527 184h2v1h-2zM321 185h1v1h-1zM529 185h1v1h-1zM320 186h1v1h-1zM530 186h2v1h-2zM319 187h1v1h-1zM532 187h1v1h-1zM318 188h1v1h-1zM533 188h1v1h-1zM317 189h1v1h-1zM534 189h1v1h-1zM316 190h1v1h-1zM535 190h1v1h-1zM315 191h1v1h-1zM536 191h1v1h-1zM313 192h2v1h-2zM537 192h1v1h-1zM312 193h1v1h-1zM537 193h1v1h-1zM311 194h1v1h-1zM538 194h1v1h-1zM310 195h1v1h-1zM539 195h1v1h-1zM309 196h1v1h-1zM540 196h1v1h-1zM308 197h1v1h-1zM541 197h1v1h-1zM307 198h1v1h-1zM542 198h1v1h-1zM5 199h1v1h-1zM306 199h1v1h-1zM542 199h1v1h-1zM6 200h1v1h-1zM305 200h1v1h-1zM543 200h1v1h-1zM7 201h2v1h-2zM304 201h1v1h-1zM544 201h1v1h-1zM9 202h1v1h-1zM303 202h1v1h-1zM545 202h1v1h-1zM10 203h2v1h-2zM302 203h1v1h-1zM545 203h1v1h-1zM12 204h1v1h-1zM301 204h1v1h-1zM546 204h1v1h-1zM13 205h2v1h-2zM300 205h1v1h-1zM547 205h1v1h-1zM15 206h1v1h-1zM300 206h1v1h-1zM548 206h1v1h-1zM16 207h3v1h-3zM299 207h1v1h-1zM548 207h1v1h-1zM19 208h1v1h-1zM298 208h1v1h-1zM549 208h1v1h-1zM20 209h3v1h-3zM297 209h1v1h-1zM550 209h1v1h-1zM23 210h2v1h-2zM297 210h1v1h-1zM550 210h1v1h-1zM25 211h3v1h-3zM296 211h1v1h-1zM551 211h1v1h-1zM28 212h3v1h-3zM295 212h1v1h-1zM552 212h1v1h-1zM31 213h2v1h-2zM294 213h1v1h-1zM553 213h1v1h-1zM33 214h3v1h-3zM294 214h1v1h-1zM553 214h1v1h-1zM36 215h3v1h-3zM293 215h1v1h-1zM554 215h1v1h-1zM39 216h1v1h-1zM292 216h1v1h-1zM555 216h1v1h-1zM842 216h5v1h-5zM40 217h3v1h-3zM291 217h1v1h-1zM556 217h1v1h-1zM834 217h8v1h-8zM847 217h2v1h-2zM43 218h1v1h-1zM290 218h1v1h-1zM556 218h1v1h-1zM827 218h7v1h-7zM849 218h3v1h-3zM44 219h2v1h-2zM289 219h1v1h-1zM557 219h1v1h-1zM824 219h3v1h-3zM852 219h3v1h-3zM46 220h1v1h-1zM289 220h1v1h-1zM558 220h1v1h-1zM820 220h4v1h-4zM855 220h1v1h-1zM47 221h2v1h-2zM288 221h1v1h-1zM558 221h1v1h-1zM817 221h3v1h-3zM856 221h3v1h-3zM49 222h1v1h-1zM287 222h1v1h-1zM559 222h1v1h-1zM815 222h2v1h-2zM859 222h1v1h-1zM50 223h2v1h-2zM286 223h1v1h-1zM560 223h1v1h-1zM813 223h2v1h-2zM860 223h3v1h-3zM52 224h1v1h-1zM285 224h1v1h-1zM560 224h1v1h-1zM812 224h1v1h-1zM863 224h2v1h-2zM53 225h1v1h-1zM284 225h1v1h-1zM561 225h1v1h-1zM811 225h1v1h-1zM865 225h3v1h-3zM54 226h2v1h-2zM282 226h2v1h-2zM562 226h1v1h-1zM809 226h2v1h-2zM868 226h3v1h-3zM56 227h2v1h-2zM281 227h1v1h-1zM562 227h1v1h-1zM808 227h1v1h-1zM871 227h1v1h-1zM58 228h1v1h-1zM279 228h2v1h-2zM563 228h1v1h-1zM807 228h1v1h-1zM872 228h3v1h-3zM59 229h2v1h-2zM278 229h1v1h-1zM564 229h1v1h-1zM806 229h1v1h-1zM875 229h1v1h-1zM61 230h1v1h-1zM277 230h1v1h-1zM564 230h1v1h-1zM803 230h3v1h-3zM876 230h3v1h-3zM62 231h1v1h-1zM276 231h1v1h-1zM565 231h1v1h-1zM800 231h3v1h-3zM879 231h1v1h-1zM63 232h2v1h-2zM274 232h2v1h-2zM566 232h1v1h-1zM795 232h5v1h-5zM880 232h3v1h-3zM65 233h1v1h-1zM273 233h1v1h-1zM566 233h1v1h-1zM792 233h3v1h-3zM883 233h1v1h-1zM66 234h2v1h-2zM271 234h2v1h-2zM567 234h1v1h-1zM787 234h5v1h-5zM884 234h3v1h-3zM68 235h1v1h-1zM270 235h1v1h-1zM567 235h1v1h-1zM784 235h3v1h-3zM887 235h2v1h-2zM69 236h1v1h-1zM268 236h2v1h-2zM568 236h1v1h-1zM781 236h3v1h-3zM889 236h3v1h-3zM70 237h1v1h-1zM265 237h3v1h-3zM569 237h1v1h-1zM780 237h1v1h-1zM892 237h6v1h-6zM71 238h2v1h-2zM263 238h2v1h-2zM569 238h1v1h-1zM779 238h1v1h-1zM898 238h6v1h-6zM73 239h1v1h-1zM260 239h3v1h-3zM570 239h1v1h-1zM777 239h2v1h-2zM904 239h3v1h-3zM74 240h2v1h-2zM257 240h3v1h-3zM571 240h1v1h-1zM776 240h1v1h-1zM907 240h3v1h-3zM76 241h1v1h-1zM255 241h2v1h-2zM571 241h1v1h-1zM775 241h1v1h-1zM77 242h1v1h-1zM252 242h3v1h-3zM572 242h1v1h-1zM774 242h1v1h-1zM78 243h1v1h-1zM249 243h3v1h-3zM572 243h1v1h-1zM773 243h1v1h-1zM79 244h1v1h-1zM247 244h2v1h-2zM573 244h1v1h-1zM772 244h1v1h-1zM80 245h1v1h-1zM245 245h2v1h-2zM574 245h1v1h-1zM771 245h1v1h-1zM81 246h2v1h-2zM244 246h1v1h-1zM575 246h1v1h-1zM769 246h2v1h-2zM83 247h1v1h-1zM242 247h2v1h-2zM576 247h1v1h-1zM768 247h1v1h-1zM84 248h1v1h-1zM241 248h1v1h-1zM577 248h1v1h-1zM767 248h1v1h-1zM85 249h1v1h-1zM239 249h2v1h-2zM577 249h1v1h-1zM766 249h1v1h-1zM86 250h2v1h-2zM238 250h1v1h-1zM578 250h1v1h-1zM763 250h3v1h-3zM88 251h2v1h-2zM237 251h1v1h-1zM579 251h1v1h-1zM760 251h3v1h-3zM90 252h1v1h-1zM235 252h2v1h-2zM580 252h1v1h-1zM756 252h4v1h-4zM91 253h2v1h-2zM234 253h1v1h-1zM581 253h1v1h-1zM753 253h3v1h-3zM93 254h1v1h-1zM232 254h2v1h-2zM582 254h1v1h-1zM751 254h2v1h-2zM94 255h2v1h-2zM230 255h2v1h-2zM583 255h1v1h-1zM748 255h3v1h-3zM96 256h2v1h-2zM229 256h1v1h-1zM584 256h1v1h-1zM747 256h1v1h-1zM98 257h1v1h-1zM228 257h1v1h-1zM585 257h2v1h-2zM744 257h3v1h-3zM99 258h2v1h-2zM226 258h2v1h-2zM587 258h1v1h-1zM743 258h1v1h-1zM101 259h2v1h-2zM225 259h1v1h-1zM588 259h1v1h-1zM740 259h3v1h-3zM103 260h1v1h-1zM223 260h2v1h-2zM589 260h1v1h-1zM739 260h1v1h-1zM104 261h3v1h-3zM222 261h1v1h-1zM590 261h1v1h-1zM736 261h3v1h-3zM107 262h1v1h-1zM221 262h1v1h-1zM591 262h2v1h-2zM735 262h1v1h-1zM108 263h2v1h-2zM219 263h2v1h-2zM593 263h1v1h-1zM733 263h2v1h-2zM110 264h1v1h-1zM218 264h1v1h-1zM594 264h2v1h-2zM732 264h1v1h-1zM111 265h2v1h-2zM216 265h2v1h-2zM596 265h1v1h-1zM730 265h2v1h-2zM113 266h1v1h-1zM214 266h2v1h-2zM597 266h1v1h-1zM729 266h1v1h-1zM114 267h2v1h-2zM212 267h2v1h-2zM598 267h1v1h-1zM727 267h2v1h-2zM116 268h1v1h-1zM209 268h3v1h-3zM599 268h1v1h-1zM726 268h1v1h-1zM117 269h1v1h-1zM207 269h2v1h-2zM600 269h1v1h-1zM725 269h1v1h-1zM118 270h1v1h-1zM203 270h4v1h-4zM601 270h2v1h-2zM723 270h2v1h-2zM119 271h2v1h-2zM200 271h3v1h-3zM603 271h1v1h-1zM722 271h1v1h-1zM121 272h1v1h-1zM196 272h4v1h-4zM604 272h1v1h-1zM720 272h2v1h-2zM122 273h2v1h-2zM195 273h1v1h-1zM605 273h1v1h-1zM718 273h2v1h-2zM124 274h1v1h-1zM192 274h3v1h-3zM606 274h1v1h-1zM716 274h2v1h-2zM125 275h1v1h-1zM191 275h1v1h-1zM607 275h1v1h-1zM715 275h1v1h-1zM126 276h2v1h-2zM188 276h3v1h-3zM608 276h1v1h-1zM712 276h3v1h-3zM128 277h2v1h-2zM187 277h1v1h-1zM609 277h2v1h-2zM711 277h1v1h-1zM130 278h1v1h-1zM184 278h3v1h-3zM611 278h1v1h-1zM709 278h2v1h-2zM131 279h2v1h-2zM183 279h1v1h-1zM612 279h1v1h-1zM708 279h1v1h-1zM133 280h2v1h-2zM179 280h4v1h-4zM613 280h1v1h-1zM706 280h2v1h-2zM135 281h1v1h-1zM176 281h3v1h-3zM614 281h1v1h-1zM705 281h1v1h-1zM136 282h3v1h-3zM170 282h6v1h-6zM615 282h1v1h-1zM703 282h2v1h-2zM139 283h1v1h-1zM163 283h7v1h-7zM616 283h1v1h-1zM702 283h1v1h-1zM140 284h4v1h-4zM160 284h3v1h-3zM617 284h2v1h-2zM701 284h1v1h-1zM144 285h3v1h-3zM154 285h6v1h-6zM619 285h1v1h-1zM700 285h1v1h-1zM147 286h7v1h-7zM620 286h1v1h-1zM698 286h2v1h-2zM621 287h1v1h-1zM697 287h1v1h-1zM622 288h2v1h-2zM695 288h2v1h-2zM624 289h2v1h-2zM694 289h1v1h-1zM626 290h1v1h-1zM693 290h1v1h-1zM627 291h2v1h-2zM691 291h2v1h-2zM629 292h1v1h-1zM690 292h1v1h-1zM630 293h2v1h-2zM688 293h2v1h-2zM632 294h2v1h-2zM686 294h2v1h-2zM634 295h1v1h-1zM684 295h2v1h-2zM635 296h2v1h-2zM683 296h1v1h-1zM637 297h5v1h-5zM680 297h3v1h-3zM642 298h6v1h-6zM679 298h1v1h-1zM648 299h3v1h-3zM674 299h5v1h-5zM651 300h7v1h-7zM666 300h8v1h-8zM658 301h8v1h-8z" fill="#3cb371"/>
<path d="M426 221h12v1h-12zM371 222h23v1h-23zM421 222h5v1h-5zM438 222h2v1h-2zM368 223h3v1h-3zM394 223h4v1h-4zM420 223h1v1h-1zM440 223h2v1h-2zM364 224h4v1h-4zM398 224h2v1h-2zM418 224h2v1h-2zM442 224h1v1h-1zM361 225h3v1h-3zM400 225h2v1h-2zM417 225h1v1h-1zM443 225h2v1h-2zM359 226h2v1h-2zM402 226h1v1h-1zM415 226h2v1h-2zM445 226h1v1h-1zM356 227h3v1h-3zM403 227h2v1h-2zM414 227h1v1h-1zM446 227h1v1h-1zM355 228h1v1h-1zM405 228h9v1h-9zM447 228h1v1h-1zM352 229h3v1h-3zM448 229h1v1h-1zM351 230h1v1h-1zM449 230h1v1h-1zM348 231h3v1h-3zM449 231h1v1h-1zM347 232h1v1h-1zM450 232h1v1h-1zM344 233h3v1h-3zM451 233h1v1h-1zM343 234h1v1h-1zM452 234h1v1h-1zM341 235h2v1h-2zM453 235h2v1h-2zM341 236h1v1h-1zM455 236h2v1h-2zM340 237h1v1h-1zM457 237h3v1h-3zM340 238h1v1h-1zM460 238h4v1h-4zM340 239h1v1h-1zM464 239h3v1h-3zM339 240h1v1h-1zM467 240h7v1h-7zM339 241h1v1h-1zM474 241h4v1h-4zM339 242h1v1h-1zM478 242h1v1h-1zM338 243h1v1h-1zM479 243h1v1h-1zM338 244h1v1h-1zM480 244h1v1h-1zM338 245h1v1h-1zM481 245h1v1h-1zM337 246h1v1h-1zM482 246h1v1h-1zM337 247h1v1h-1zM483 247h1v1h-1zM336 248h1v1h-1zM484 248h1v1h-1zM336 249h1v1h-1zM485 249h1v1h-1zM336 250h1v1h-1zM486 250h1v1h-1zM335 251h1v1h-1zM487 251h2v1h-2zM335 252h1v1h-1zM489 252h1v1h-1zM335 253h1v1h-1zM490 253h2v1h-2zM334 254h1v1h-1zM492 254h1v1h-1zM334 255h1v1h-1zM493 255h1v1h-1zM334 256h1v1h-1zM494 256h2v1h-2zM333 257h1v1h-1zM496 257h2v1h-2zM333 258h1v1h-1zM498 258h1v1h-1zM333 259h1v1h-1zM499 259h2v1h-2zM332 260h1v1h-1zM501 260h1v1h-1zM332 261h1v1h-1zM502 261h2v1h-2zM331 262h1v1h-1zM504 262h2v1h-2zM331 263h1v1h-1zM506 263h1v1h-1zM330 264h1v1h-1zM507 264h2v1h-2zM330 265h1v1h-1zM509 265h2v1h-2zM330 266h1v1h-1zM511 266h1v1h-1zM329 267h1v1h-1zM512 267h3v1h-3zM329 268h1v1h-1zM515 268h1v1h-1zM328 269h1v1h-1zM516 269h2v1h-2zM328 270h1v1h-1zM518 270h1v1h-1zM328 271h1v1h-1zM518 271h1v1h-1zM327 272h1v1h-1zM519 272h1v1h-1zM327 273h1v1h-1zM519 273h1v1h-1zM804 273h2v1h-2zM326 274h1v1h-1zM520 274h1v1h-1zM801 274h3v1h-3zM806 274h1v1h-1zM326 275h1v1h-1zM520 275h1v1h-1zM799 275h2v1h-2zM807 275h1v1h-1zM325 276h1v1h-1zM521 276h1v1h-1zM796 276h3v1h-3zM808 276h1v1h-1zM325 277h1v1h-1zM522 277h1v1h-1zM795 277h1v1h-1zM809 277h1v1h-1zM325 278h1v1h-1zM522 278h1v1h-1zM792 278h3v1h-3zM810 278h1v1h-1zM324 279h1v1h-1zM523 279h1v1h-1zM791 279h1v1h-1zM811 279h1v1h-1zM324 280h1v1h-1zM523 280h1v1h-1zM789 280h2v1h-2zM812 280h1v1h-1zM323 281h1v1h-1zM524 281h1v1h-1zM788 281h1v1h-1zM813 281h2v1h-2zM323 282h1v1h-1zM524 282h1v1h-1zM787 282h1v1h-1zM815 282h2v1h-2zM322 283h1v1h-1zM525 283h1v1h-1zM785 283h2v1h-2zM817 283h3v1h-3zM322 284h1v1h-1zM525 284h1v1h-1zM784 284h1v1h-1zM820 284h4v1h-4zM321 285h1v1h-1zM526 285h1v1h-1zM783 285h1v1h-1zM824 285h3v1h-3zM321 286h1v1h-1zM526 286h1v1h-1zM782 286h1v1h-1zM827 286h20v1h-20zM321 287h1v1h-1zM527 287h1v1h-1zM781 287h1v1h-1zM847 287h1v1h-1zM320 288h1v1h-1zM527 288h1v1h-1zM781 288h1v1h-1zM848 288h3v1h-3zM320 289h1v1h-1zM528 289h1v1h-1zM780 289h1v1h-1zM851 289h1v1h-1zM319 290h1v1h-1zM528 290h1v1h-1zM780 290h1v1h-1zM852 290h2v1h-2zM319 291h1v1h-1zM528 291h1v1h-1zM780 291h1v1h-1zM854 291h1v1h-1zM318 292h1v1h-1zM529 292h1v1h-1zM780 292h1v1h-1zM855 292h1v1h-1zM318 293h1v1h-1zM529 293h1v1h-1zM779 293h1v1h-1zM856 293h1v1h-1zM5 294h1v1h-1zM317 294h1v1h-1zM530 294h1v1h-1zM779 294h1v1h-1zM857 294h1v1h-1zM5 295h1v1h-1zM317 295h1v1h-1zM530 295h1v1h-1zM779 295h1v1h-1zM858 295h1v1h-1zM6 296h1v1h-1zM316 296h1v1h-1zM530 296h1v1h-1zM779 296h1v1h-1zM859 296h1v1h-1zM6 297h1v1h-1zM316 297h1v1h-1zM531 297h1v1h-1zM778 297h1v1h-1zM860 297h1v1h-1zM7 298h1v1h-1zM315 298h1v1h-1zM531 298h1v1h-1zM778 298h1v1h-1zM861 298h1v1h-1zM7 299h1v1h-1zM315 299h1v1h-1zM532 299h1v1h-1zM778 299h1v1h-1zM862 299h1v1h-1zM8 300h1v1h-1zM314 300h1v1h-1zM532 300h1v1h-1zM777 300h1v1h-1zM863 300h1v1h-1zM8 301h1v1h-1zM314 301h1v1h-1zM533 301h1v1h-1zM777 301h1v1h-1zM863 301h1v1h-1zM9 302h1v1h-1zM313 302h1v1h-1zM533 302h1v1h-1zM777 302h1v1h-1zM864 302h1v1h-1zM9 303h1v1h-1zM313 303h1v1h-1zM533 303h1v1h-1zM777 303h1v1h-1zM865 303h1v1h-1zM10 304h1v1h-1zM312 304h1v1h-1zM534 304h1v1h-1zM776 304h1v1h-1zM866 304h1v1h-1zM10 305h1v1h-1zM312 305h1v1h-1zM534 305h1v1h-1zM776 305h1v1h-1zM867 305h1v1h-1zM11 306h1v1h-1zM311 306h1v1h-1zM535 306h1v1h-1zM776 306h1v1h-1zM867 306h1v1h-1zM11 307h1v1h-1zM311 307h1v1h-1zM535 307h1v1h-1zM775 307h1v1h-1zM868 307h1v1h-1zM12 308h1v1h-1zM310 308h1v1h-1zM536 308h1v1h-1zM775 308h1v1h-1zM869 308h1v1h-1zM12 309h1v1h-1zM310 309h1v1h-1zM536 309h1v1h-1zM775 309h1v1h-1zM870 309h1v1h-1zM13 310h1v1h-1zM309 310h1v1h-1zM536 310h1v1h-1zM775 310h1v1h-1zM871 310h1v1h-1zM13 311h1v1h-1zM308 311h1v1h-1zM537 311h1v1h-1zM774 311h1v1h-1zM872 311h1v1h-1zM13 312h1v1h-1zM308 312h1v1h-1zM537 312h1v1h-1zM774 312h1v1h-1zM873 312h1v1h-1zM14 313h1v1h-1zM307 313h1v1h-1zM538 313h1v1h-1zM774 313h1v1h-1zM874 313h1v1h-1zM14 314h1v1h-1zM180 314h2v1h-2zM306 314h1v1h-1zM538 314h1v1h-1zM774 314h1v1h-1zM875 314h1v1h-1zM15 315h1v1h-1zM179 315h1v1h-1zM182 315h1v1h-1zM305 315h1v1h-1zM538 315h1v1h-1zM773 315h1v1h-1zM876 315h1v1h-1zM15 316h1v1h-1zM176 316h3v1h-3zM183 316h1v1h-1zM305 316h1v1h-1zM539 316h1v1h-1zM773 316h1v1h-1zM877 316h1v1h-1zM16 317h1v1h-1zM175 317h1v1h-1zM184 317h1v1h-1zM304 317h1v1h-1zM539 317h1v1h-1zM773 317h1v1h-1zM878 317h1v1h-1zM16 318h1v1h-1zM173 318h2v1h-2zM185 318h2v1h-2zM303 318h1v1h-1zM540 318h1v1h-1zM772 318h1v1h-1zM878 318h1v1h-1zM17 319h1v1h-1zM171 319h2v1h-2zM187 319h1v1h-1zM302 319h1v1h-1zM540 319h1v1h-1zM772 319h1v1h-1zM879 319h1v1h-1zM17 320h1v1h-1zM170 320h1v1h-1zM188 320h1v1h-1zM302 320h1v1h-1zM541 320h1v1h-1zM772 320h1v1h-1zM880 320h1v1h-1zM17 321h1v1h-1zM168 321h2v1h-2zM189 321h1v1h-1zM301 321h1v1h-1zM541 321h1v1h-1zM771 321h1v1h-1zM880 321h1v1h-1zM18 322h1v1h-1zM166 322h2v1h-2zM190 322h2v1h-2zM300 322h1v1h-1zM541 322h1v1h-1zM771 322h1v1h-1zM881 322h1v1h-1zM18 323h1v1h-1zM164 323h2v1h-2zM192 323h2v1h-2zM298 323h2v1h-2zM542 323h1v1h-1zM771 323h1v1h-1zM882 323h1v1h-1zM19 324h1v1h-1zM163 324h1v1h-1zM194 324h1v1h-1zM297 324h1v1h-1zM543 324h1v1h-1zM770 324h1v1h-1zM882 324h1v1h-1zM19 325h1v1h-1zM160 325h3v1h-3zM195 325h2v1h-2zM295 325h2v1h-2zM543 325h1v1h-1zM770 325h1v1h-1zM883 325h1v1h-1zM20 326h1v1h-1zM159 326h1v1h-1zM197 326h2v1h-2zM294 326h1v1h-1zM543 326h1v1h-1zM770 326h1v1h-1zM884 326h1v1h-1zM20 327h1v1h-1zM155 327h4v1h-4zM199 327h1v1h-1zM293 327h1v1h-1zM544 327h1v1h-1zM769 327h1v1h-1zM884 327h1v1h-1zM21 328h1v1h-1zM152 328h3v1h-3zM200 328h3v1h-3zM292 328h1v1h-1zM545 328h1v1h-1zM769 328h1v1h-1zM885 328h1v1h-1zM21 329h1v1h-1zM141 329h11v1h-11zM203 329h1v1h-1zM291 329h1v1h-1zM545 329h1v1h-1zM769 329h1v1h-1zM886 329h2v1h-2zM22 330h1v1h-1zM140 330h1v1h-1zM204 330h3v1h-3zM290 330h1v1h-1zM545 330h1v1h-1zM768 330h1v1h-1zM888 330h2v1h-2zM23 331h1v1h-1zM138 331h2v1h-2zM207 331h2v1h-2zM289 331h1v1h-1zM546 331h1v1h-1zM768 331h1v1h-1zM890 331h1v1h-1zM24 332h1v1h-1zM137 332h1v1h-1zM209 332h3v1h-3zM288 332h1v1h-1zM547 332h1v1h-1zM768 332h1v1h-1zM891 332h2v1h-2zM25 333h1v1h-1zM135 333h2v1h-2zM212 333h3v1h-3zM287 333h1v1h-1zM547 333h1v1h-1zM767 333h1v1h-1zM893 333h2v1h-2zM26 334h1v1h-1zM134 334h1v1h-1zM215 334h1v1h-1zM286 334h1v1h-1zM547 334h1v1h-1zM767 334h1v1h-1zM895 334h2v1h-2zM27 335h1v1h-1zM133 335h1v1h-1zM216 335h3v1h-3zM285 335h1v1h-1zM548 335h1v1h-1zM767 335h1v1h-1zM897 335h3v1h-3zM28 336h1v1h-1zM131 336h2v1h-2zM219 336h1v1h-1zM284 336h1v1h-1zM549 336h1v1h-1zM766 336h1v1h-1zM900 336h3v1h-3zM29 337h1v1h-1zM130 337h1v1h-1zM220 337h2v1h-2zM283 337h1v1h-1zM549 337h1v1h-1zM766 337h1v1h-1zM903 337h2v1h-2zM30 338h1v1h-1zM128 338h2v1h-2zM222 338h1v1h-1zM282 338h1v1h-1zM550 338h1v1h-1zM766 338h1v1h-1zM905 338h3v1h-3zM31 339h1v1h-1zM126 339h2v1h-2zM223 339h1v1h-1zM281 339h1v1h-1zM550 339h1v1h-1zM765 339h1v1h-1zM908 339h2v1h-2zM32 340h1v1h-1zM123 340h3v1h-3zM223 340h1v1h-1zM280 340h1v1h-1zM551 340h1v1h-1zM765 340h1v1h-1zM33 341h2v1h-2zM120 341h3v1h-3zM224 341h1v1h-1zM279 341h1v1h-1zM551 341h1v1h-1zM764 341h1v1h-1zM35 342h1v1h-1zM116 342h4v1h-4zM225 342h1v1h-1zM278 342h1v1h-1zM552 342h1v1h-1zM763 342h1v1h-1zM36 343h1v1h-1zM113 343h3v1h-3zM226 343h1v1h-1zM277 343h1v1h-1zM552 343h1v1h-1zM762 343h1v1h-1zM37 344h1v1h-1zM111 344h2v1h-2zM227 344h1v1h-1zM276 344h1v1h-1zM553 344h1v1h-1zM761 344h1v1h-1zM38 345h1v1h-1zM107 345h4v1h-4zM227 345h1v1h-1zM275 345h1v1h-1zM553 345h1v1h-1zM761 345h1v1h-1zM39 346h2v1h-2zM104 346h3v1h-3zM228 346h1v1h-1zM273 346h2v1h-2zM554 346h1v1h-1zM760 346h1v1h-1zM41 347h1v1h-1zM100 347h4v1h-4zM229 347h1v1h-1zM272 347h1v1h-1zM554 347h1v1h-1zM759 347h1v1h-1zM42 348h2v1h-2zM99 348h1v1h-1zM230 348h1v1h-1zM271 348h1v1h-1zM555 348h1v1h-1zM758 348h1v1h-1zM44 349h1v1h-1zM96 349h3v1h-3zM231 349h1v1h-1zM270 349h1v1h-1zM555 349h1v1h-1zM757 349h1v1h-1zM45 350h2v1h-2zM95 350h1v1h-1zM232 350h1v1h-1zM268 350h2v1h-2zM556 350h1v1h-1zM756 350h1v1h-1zM47 351h1v1h-1zM90 351h5v1h-5zM233 351h1v1h-1zM265 351h3v1h-3zM556 351h1v1h-1zM755 351h1v1h-1zM48 352h3v1h-3zM82 352h8v1h-8zM233 352h1v1h-1zM263 352h2v1h-2zM557 352h2v1h-2zM754 352h1v1h-1zM51 353h1v1h-1zM76 353h6v1h-6zM234 353h1v1h-1zM259 353h4v1h-4zM559 353h2v1h-2zM753 353h1v1h-1zM52 354h3v1h-3zM75 354h1v1h-1zM235 354h1v1h-1zM256 354h3v1h-3zM561 354h3v1h-3zM753 354h1v1h-1zM55 355h1v1h-1zM72 355h3v1h-3zM236 355h1v1h-1zM251 355h5v1h-5zM564 355h3v1h-3zM752 355h1v1h-1zM56 356h3v1h-3zM71 356h1v1h-1zM237 356h5v1h-5zM248 356h3v1h-3zM567 356h1v1h-1zM751 356h1v1h-1zM59 357h1v1h-1zM66 357h5v1h-5zM242 357h6v1h-6zM568 357h3v1h-3zM750 357h1v1h-1zM60 358h6v1h-6zM571 358h1v1h-1zM749 358h1v1h-1zM572 359h2v1h-2zM748 359h1v1h-1zM574 360h1v1h-1zM747 360h1v1h-1zM575 361h1v1h-1zM745 361h2v1h-2zM576 362h1v1h-1zM744 362h1v1h-1zM577 363h2v1h-2zM743 363h1v1h-1zM579 364h1v1h-1zM742 364h1v1h-1zM580 365h1v1h-1zM741 365h1v1h-1zM581 366h1v1h-1zM740 366h1v1h-1zM582 367h1v1h-1zM739 367h1v1h-1zM583 368h1v1h-1zM738 368h1v1h-1zM584 369h1v1h-1zM737 369h1v1h-1zM585 370h2v1h-2zM737 370h1v1h-1zM587 371h1v1h-1zM736 371h1v1h-1zM588 372h1v1h-1zM735 372h1v1h-1zM589 373h1v1h-1zM734 373h1v1h-1zM590 374h1v1h-1zM733 374h1v1h-1zM591 375h1v1h-1zM732 375h1v1h-1zM592 376h1v1h-1zM731 376h1v1h-1zM593 377h2v1h-2zM731 377h1v1h-1zM595 378h1v1h-1zM730 378h1v1h-1zM596 379h1v1h-1zM729 379h1v1h-1zM597 380h1v1h-1zM728 380h1v1h-1zM598 381h1v1h-1zM727 381h1v1h-1zM599 382h2v1h-2zM727 382h1v1h-1zM601 383h1v1h-1zM726 383h1v1h-1zM602 384h2v1h-2zM725 384h1v1h-1zM604 385h1v1h-1zM723 385h2v1h-2zM605 386h1v1h-1zM659 386h5v1h-5zM722 386h1v1h-1zM606 387h1v1h-1zM656 387h3v1h-3zM664 387h3v1h-3zM720 387h2v1h-2zM607 388h1v1h-1zM651 388h5v1h-5zM667 388h4v1h-4zM718 388h2v1h-2zM607 389h1v1h-1zM648 389h3v1h-3zM671 389h1v1h-1zM717 389h1v1h-1zM608 390h1v1h-1zM644 390h4v1h-4zM672 390h3v1h-3zM716 390h1v1h-1zM609 391h1v1h-1zM641 391h3v1h-3zM675 391h1v1h-1zM714 391h2v1h-2zM610 392h1v1h-1zM639 392h2v1h-2zM676 392h3v1h-3zM713 392h1v1h-1zM611 393h1v1h-1zM637 393h2v1h-2zM679 393h1v1h-1zM711 393h2v1h-2zM611 394h1v1h-1zM635 394h2v1h-2zM680 394h3v1h-3zM710 394h1v1h-1zM612 395h1v1h-1zM634 395h1v1h-1zM683 395h1v1h-1zM708 395h2v1h-2zM613 396h1v1h-1zM632 396h2v1h-2zM684 396h3v1h-3zM705 396h3v1h-3zM614 397h1v1h-1zM630 397h2v1h-2zM687 397h2v1h-2zM703 397h2v1h-2zM615 398h1v1h-1zM629 398h1v1h-1zM689 398h3v1h-3zM698 398h5v1h-5zM616 399h1v1h-1zM628 399h1v1h-1zM692 399h6v1h-6zM617 400h1v1h-1zM626 400h2v1h-2zM618 401h1v1h-1zM625 401h1v1h-1zM619 402h1v1h-1zM623 402h2v1h-2zM620 403h1v1h-1zM622 403h1v1h-1zM621 404h1v1h-1z" fill="#3cb371"/>
<rect x="5" y="294" width="1" height="31" fill="#28c828"/>
<rect x="3" y="294" width="5" height="31" fill="#24c824"/><rect x="4" y="295" width="3" height="29" fill="#32cd32"/>
<rect x="13" y="320" width="1" height="9" fill="#ff0000"/>
<rect x="11" y="321" width="5" height="4" fill="#ff0000"/><rect x="12" y="322" width="3" height="2" fill="#ff4500"/>
<rect x="21" y="301" width="1" height="29" fill="#ff0000"/>
<rect x="19" y="312" width="5" height="8" fill="#ff0000"/><rect x="20" y="313" width="3" height="6" fill="#ff4500"/>
<rect x="29" y="288" width="1" height="32" fill="#ff0000"/>
<rect x="27" y="290" width="5" height="23" fill="#ff0000"/><rect x="28" y="291" width="3" height="21" fill="#ff4500"/>
<rect x="37" y="260" width="1" height="36" fill="#ff0000"/>
<rect x="35" y="284" width="5" height="7" fill="#ff0000"/><rect x="36" y="285" width="3" height="5" fill="#ff4500"/>
<rect x="45" y="261" width="1" height="68" fill="#ff0000"/>
<rect x="43" y="274" width="5" height="11" fill="#ff0000"/><rect x="44" y="275" width="3" height="9" fill="#ff4500"/>
<rect x="53" y="253" width="1" height="30" fill="#ff0000"/>
<rect x="51" y="271" width="5" height="4" fill="#ff0000"/><rect x="52" y="272" width="3" height="2" fill="#ff4500"/>
<rect x="61" y="269" width="1" height="14" fill="#28c828"/>
<rect x="59" y="271" width="5" height="8" fill="#24c824"/><rect x="60" y="272" width="3" height="6" fill="#32cd32"/>
<rect x="69" y="246" width="1" height="39" fill="#ff0000"/>
<rect x="67" y="251" width="5" height="29" fill="#ff0000"/><rect x="68" y="252" width="3" height="27" fill="#ff4500"/>
<rect x="77" y="244" width="1" height="31" fill="#28c828"/>
<rect x="75" y="251" width="5" height="3" fill="#24c824"/><rect x="76" y="252" width="3" height="1" fill="#32cd32"/>
<rect x="85" y="237" width="1" height="39" fill="#28c828"/>
<rect x="83" y="253" width="5" height="7" fill="#24c824"/><rect x="84" y="254" width="3" height="5" fill="#32cd32"/>
<rect x="93" y="244" width="1" height="37" fill="#28c828"/>
<rect x="91" y="260" width="5" height="10" fill="#24c824"/><rect x="92" y="261" width="3" height="8" fill="#32cd32"/>
<rect x="101" y="245" width="1" height="48" fill="#ff0000"/>
<rect x="99" y="259" width="5" height="11" fill="#ff0000"/><rect x="100" y="260" width="3" height="9" fill="#ff4500"/>
<rect x="109" y="258" width="1" height="13" fill="#28c828"/>
<rect x="107" y="259" width="5" height="11" fill="#24c824"/><rect x="108" y="260" width="3" height="9" fill="#32cd32"/>
<rect x="117" y="264" width="1" height="34" fill="#28c828"/>
<rect x="115" y="274" width="5" height="22" fill="#24c824"/><rect x="116" y="275" width="3" height="20" fill="#32cd32"/>
<rect x="125" y="291" width="1" height="28" fill="#28c828"/>
<rect x="123" y="295" width="5" height="11" fill="#24c824"/><rect x="124" y="296" width="3" height="9" fill="#32cd32"/>
<rect x="133" y="279" width="1" height="30" fill="#28c828"/>
<rect x="131" y="305" width="5" height="1" fill="#24c824"/>
<rect x="141" y="284" width="1" height="34" fill="#ff0000"/>
<rect x="139" y="296" width="5" height="10" fill="#ff0000"/><rect x="140" y="297" width="3" height="8" fill="#ff4500"/>
<rect x="149" y="292" width="1" height="54" fill="#ff0000"/>
<rect x="147" y="294" width="5" height="3" fill="#ff0000"/><rect x="148" y="295" width="3" height="1" fill="#ff4500"/>
<rect x="157" y="280" width="1" height="15" fill="#ff0000"/>
<rect x="155" y="289" width="5" height="6" fill="#ff0000"/><rect x="156" y="290" width="3" height="4" fill="#ff4500"/>
<rect x="165" y="277" width="1" height="28" fill="#28c828"/>
<rect x="163" y="285" width="5" height="19" fill="#24c824"/><rect x="164" y="286" width="3" height="17" fill="#32cd32"/>
<rect x="173" y="266" width="1" height="57" fill="#ff0000"/>
<rect x="171" y="275" width="5" height="29" fill="#ff0000"/><rect x="172" y="276" width="3" height="27" fill="#ff4500"/>
<rect x="181" y="271" width="1" height="35" fill="#28c828"/>
<rect x="179" y="275" width="5" height="18" fill="#24c824"/><rect x="180" y="276" width="3" height="16" fill="#32cd32"/>
<rect x="189" y="198" width="1" height="111" fill="#ff0000"/>
<rect x="187" y="215" width="5" height="77" fill="#ff0000"/><rect x="188" y="216" width="3" height="75" fill="#ff4500"/>
<rect x="197" y="160" width="1" height="57" fill="#ff0000"/>
<rect x="195" y="207" width="5" height="8" fill="#ff0000"/><rect x="196" y="208" width="3" height="6" fill="#ff4500"/>
<rect x="205" y="205" width="1" height="15" fill="#28c828"/>
<rect x="203" y="207" width="5" height="7" fill="#24c824"/><rect x="204" y="208" width="3" height="5" fill="#32cd32"/>
<rect x="213" y="194" width="1" height="26" fill="#ff0000"/>
<rect x="211" y="201" width="5" height="13" fill="#ff0000"/><rect x="212" y="202" width="3" height="11" fill="#ff4500"/>
<rect x="221" y="174" width="1" height="37" fill="#ff0000"/>
<rect x="219" y="185" width="5" height="17" fill="#ff0000"/><rect x="220" y="186" width="3" height="15" fill="#ff4500"/>
<rect x="229" y="128" width="1" height="69" fill="#ff0000"/>
<rect x="227" y="143" width="5" height="43" fill="#ff0000"/><rect x="228" y="144" width="3" height="41" fill="#ff4500"/>
<rect x="237" y="126" width="1" height="30" fill="#ff0000"/>
<rect x="235" y="135" width="5" height="9" fill="#ff0000"/><rect x="236" y="136" width="3" height="7" fill="#ff4500"/>
<rect x="245" y="131" width="1" height="50" fill="#28c828"/>
<rect x="243" y="135" width="5" height="34" fill="#24c824"/><rect x="244" y="136" width="3" height="32" fill="#32cd32"/>
<rect x="253" y="167" width="1" height="25" fill="#28c828"/>
<rect x="251" y="168" width="5" height="18" fill="#24c824"/><rect x="252" y="169" width="3" height="16" fill="#32cd32"/>
<rect x="261" y="177" width="1" height="39" fill="#28c828"/>
<rect x="259" y="194" width="5" height="11" fill="#24c824"/><rect x="260" y="195" width="3" height="9" fill="#32cd32"/>
<rect x="269" y="192" width="1" height="43" fill="#ff0000"/>
<rect x="267" y="200" width="5" height="5" fill="#ff0000"/><rect x="268" y="201" width="3" height="3" fill="#ff4500"/>
<rect x="277" y="176" width="1" height="40" fill="#ff0000"/>
<rect x="275" y="192" width="5" height="8" fill="#ff0000"/><rect x="276" y="193" width="3" height="6" fill="#ff4500"/>
<rect x="285" y="130" width="1" height="69" fill="#ff0000"/>
<rect x="283" y="160" width="5" height="33" fill="#ff0000"/><rect x="284" y="161" width="3" height="31" fill="#ff4500"/>
<rect x="293" y="113" width="1" height="55" fill="#ff0000"/>
<rect x="291" y="119" width="5" height="42" fill="#ff0000"/><rect x="292" y="120" width="3" height="40" fill="#ff4500"/>
<rect x="301" y="102" width="1" height="21" fill="#ff0000"/>
<rect x="299" y="104" width="5" height="16" fill="#ff0000"/><rect x="300" y="105" width="3" height="14" fill="#ff4500"/>
<rect x="309" y="108" width="1" height="32" fill="#28c828"/>
<rect x="307" y="118" width="5" height="11" fill="#24c824"/><rect x="308" y="119" width="3" height="9" fill="#32cd32"/>
<rect x="317" y="125" width="1" height="57" fill="#28c828"/>
<rect x="315" y="128" width="5" height="33" fill="#24c824"/><rect x="316" y="129" width="3" height="31" fill="#32cd32"/>
<rect x="325" y="147" width="1" height="57" fill="#ff0000"/>
<rect x="323" y="158" width="5" height="3" fill="#ff0000"/><rect x="324" y="159" width="3" height="1" fill="#ff4500"/>
<rect x="333" y="146" width="1" height="33" fill="#28c828"/>
<rect x="331" y="158" width="5" height="12" fill="#24c824"/><rect x="332" y="159" width="3" height="10" fill="#32cd32"/>
<rect x="341" y="160" width="1" height="32" fill="#28c828"/>
<rect x="339" y="169" width="5" height="16" fill="#24c824"/><rect x="340" y="170" width="3" height="14" fill="#32cd32"/>
<rect x="349" y="179" width="1" height="11" fill="#28c828"/>
<rect x="347" y="184" width="5" height="2" fill="#24c824"/>
<rect x="357" y="147" width="1" height="41" fill="#ff0000"/>
<rect x="355" y="179" width="5" height="1" fill="#ff0000"/>
<rect x="365" y="152" width="1" height="45" fill="#28c828"/>
<rect x="363" y="180" width="5" height="11" fill="#24c824"/><rect x="364" y="181" width="3" height="9" fill="#32cd32"/>
<rect x="373" y="169" width="1" height="38" fill="#ff0000"/>
<rect x="371" y="189" width="5" height="2" fill="#ff0000"/>
<rect x="381" y="94" width="1" height="96" fill="#ff0000"/>
<rect x="379" y="118" width="5" height="72" fill="#ff0000"/><rect x="380" y="119" width="3" height="70" fill="#ff4500"/>
<rect x="389" y="106" width="1" height="35" fill="#28c828"/>
<rect x="387" y="118" width="5" height="9" fill="#24c824"/><rect x="388" y="119" width="3" height="7" fill="#32cd32"/>
<rect x="397" y="117" width="1" height="18" fill="#28c828"/>
<rect x="395" y="126" width="5" height="1" fill="#24c824"/>
<rect x="405" y="56" width="1" height="35" fill="#28c828"/>
<rect x="403" y="81" width="5" height="4" fill="#24c824"/><rect x="404" y="82" width="3" height="2" fill="#32cd32"/>
<rect x="413" y="56" width="1" height="37" fill="#28c828"/>
<rect x="411" y="83" width="5" height="5" fill="#24c824"/><rect x="412" y="84" width="3" height="3" fill="#32cd32"/>
<rect x="421" y="81" width="1" height="79" fill="#28c828"/>
<rect x="419" y="86" width="5" height="68" fill="#24c824"/><rect x="420" y="87" width="3" height="66" fill="#32cd32"/>
<rect x="429" y="147" width="1" height="66" fill="#28c828"/>
<rect x="427" y="153" width="5" height="45" fill="#24c824"/><rect x="428" y="154" width="3" height="43" fill="#32cd32"/>
<rect x="437" y="174" width="1" height="30" fill="#ff0000"/>
<rect x="435" y="192" width="5" height="5" fill="#ff0000"/><rect x="436" y="193" width="3" height="3" fill="#ff4500"/>
<rect x="445" y="190" width="1" height="18" fill="#28c828"/>
<rect x="443" y="192" width="5" height="8" fill="#24c824"/><rect x="444" y="193" width="3" height="6" fill="#32cd32"/>
<rect x="453" y="185" width="1" height="39" fill="#28c828"/>
<rect x="451" y="216" width="5" height="3" fill="#24c824"/><rect x="452" y="217" width="3" height="1" fill="#32cd32"/>
<rect x="461" y="186" width="1" height="37" fill="#ff0000"/>
<rect x="459" y="204" width="5" height="15" fill="#ff0000"/><rect x="460" y="205" width="3" height="13" fill="#ff4500"/>
<rect x="469" y="182" width="1" height="32" fill="#ff0000"/>
<rect x="467" y="185" width="5" height="20" fill="#ff0000"/><rect x="468" y="186" width="3" height="18" fill="#ff4500"/>
<rect x="477" y="170" width="1" height="29" fill="#28c828"/>
<rect x="475" y="185" width="5" height="1" fill="#24c824"/>
<rect x="485" y="179" width="1" height="66" fill="#28c828"/>
<rect x="483" y="185" width="5" height="44" fill="#24c824"/><rect x="484" y="186" width="3" height="42" fill="#32cd32"/>
<rect x="493" y="220" width="1" height="10" fill="#ff0000"/>
<rect x="491" y="222" width="5" height="7" fill="#ff0000"/><rect x="492" y="223" width="3" height="5" fill="#ff4500"/>
<rect x="501" y="217" width="1" height="14" fill="#ff0000"/>
<rect x="499" y="221" width="5" height="6" fill="#ff0000"/><rect x="500" y="222" width="3" height="4" fill="#ff4500"/>
<rect x="509" y="203" width="1" height="27" fill="#28c828"/>
<rect x="507" y="221" width="5" height="8" fill="#24c824"/><rect x="508" y="222" width="3" height="6" fill="#32cd32"/>
<rect x="517" y="205" width="1" height="29" fill="#ff0000"/>
<rect x="515" y="224" width="5" height="5" fill="#ff0000"/><rect x="516" y="225" width="3" height="3" fill="#ff4500"/>
<rect x="525" y="219" width="1" height="76" fill="#28c828"/>
<rect x="523" y="224" width="5" height="53" fill="#24c824"/><rect x="524" y="225" width="3" height="51" fill="#32cd32"/>
<rect x="533" y="264" width="1" height="42" fill="#28c828"/>
<rect x="531" y="275" width="5" height="25" fill="#24c824"/><rect x="532" y="276" width="3" height="23" fill="#32cd32"/>
<rect x="541" y="295" width="1" height="35" fill="#28c828"/>
<rect x="539" y="299" width="5" height="27" fill="#24c824"/><rect x="540" y="300" width="3" height="25" fill="#32cd32"/>
<rect x="549" y="308" width="1" height="25" fill="#ff0000"/>
<rect x="547" y="324" width="5" height="9" fill="#ff0000"/><rect x="548" y="325" width="3" height="7" fill="#ff4500"/>
<rect x="557" y="315" width="1" height="19" fill="#28c828"/>
<rect x="555" y="324" width="5" height="8" fill="#24c824"/><rect x="556" y="325" width="3" height="6" fill="#32cd32"/>
<rect x="565" y="309" width="1" height="28" fill="#ff0000"/>
<rect x="563" y="320" width="5" height="12" fill="#ff0000"/><rect x="564" y="321" width="3" height="10" fill="#ff4500"/>
<rect x="573" y="301" width="1" height="48" fill="#28c828"/>
<rect x="571" y="320" width="5" height="22" fill="#24c824"/><rect x="572" y="321" width="3" height="20" fill="#32cd32"/>
<rect x="581" y="307" width="1" height="42" fill="#ff0000"/>
<rect x="579" y="332" width="5" height="10" fill="#ff0000"/><rect x="580" y="333" width="3" height="8" fill="#ff4500"/>
<rect x="589" y="324" width="1" height="10" fill="#ff0000"/>
<rect x="587" y="325" width="5" height="8" fill="#ff0000"/><rect x="588" y="326" width="3" height="6" fill="#ff4500"/>
<rect x="597" y="306" width="1" height="26" fill="#28c828"/>
<rect x="595" y="328" width="5" height="3" fill="#24c824"/><rect x="596" y="329" width="3" height="1" fill="#32cd32"/>
<rect x="605" y="318" width="1" height="19" fill="#28c828"/>
<rect x="603" y="330" width="5" height="3" fill="#24c824"/><rect x="604" y="331" width="3" height="1" fill="#32cd32"/>
<rect x="613" y="323" width="1" height="53" fill="#28c828"/>
<rect x="611" y="328" width="5" height="35" fill="#24c824"/><rect x="612" y="329" width="3" height="33" fill="#32cd32"/>
<rect x="621" y="353" width="1" height="139" fill="#28c828"/>
<rect x="619" y="362" width="5" height="4" fill="#24c824"/><rect x="620" y="363" width="3" height="2" fill="#32cd32"/>
<rect x="629" y="280" width="1" height="90" fill="#ff0000"/>
<rect x="627" y="280" width="5" height="85" fill="#ff0000"/><rect x="628" y="281" width="3" height="83" fill="#ff4500"/>
<rect x="637" y="264" width="1" height="25" fill="#ff0000"/>
<rect x="635" y="271" width="5" height="10" fill="#ff0000"/><rect x="636" y="272" width="3" height="8" fill="#ff4500"/>
<rect x="645" y="251" width="1" height="22" fill="#ff0000"/>
<rect x="643" y="255" width="5" height="17" fill="#ff0000"/><rect x="644" y="256" width="3" height="15" fill="#ff4500"/>
<rect x="653" y="245" width="1" height="27" fill="#28c828"/>
<rect x="651" y="255" width="5" height="8" fill="#24c824"/><rect x="652" y="256" width="3" height="6" fill="#32cd32"/>
<rect x="661" y="211" width="1" height="53" fill="#ff0000"/>
<rect x="659" y="232" width="5" height="30" fill="#ff0000"/><rect x="660" y="233" width="3" height="28" fill="#ff4500"/>
<rect x="669" y="208" width="1" height="41" fill="#ff0000"/>
<rect x="667" y="213" width="5" height="20" fill="#ff0000"/><rect x="668" y="214" width="3" height="18" fill="#ff4500"/>
<rect x="677" y="178" width="1" height="50" fill="#ff0000"/>
<rect x="675" y="205" width="5" height="8" fill="#ff0000"/><rect x="676" y="206" width="3" height="6" fill="#ff4500"/>
<rect x="685" y="198" width="1" height="12" fill="#ff0000"/>
<rect x="683" y="201" width="5" height="5" fill="#ff0000"/><rect x="684" y="202" width="3" height="3" fill="#ff4500"/>
<rect x="693" y="192" width="1" height="34" fill="#28c828"/>
<rect x="691" y="198" width="5" height="5" fill="#24c824"/><rect x="692" y="199" width="3" height="3" fill="#32cd32"/>
<rect x="701" y="186" width="1" height="31" fill="#28c828"/>
<rect x="699" y="202" width="5" height="2" fill="#24c824"/>
<rect x="709" y="196" width="1" height="40" fill="#28c828"/>
<rect x="707" y="203" width="5" height="19" fill="#24c824"/><rect x="708" y="204" width="3" height="17" fill="#32cd32"/>
<rect x="717" y="215" width="1" height="33" fill="#28c828"/>
<rect x="715" y="221" width="5" height="18" fill="#24c824"/><rect x="716" y="222" width="3" height="16" fill="#32cd32"/>
<rect x="725" y="190" width="1" height="49" fill="#ff0000"/>
<rect x="723" y="218" width="5" height="21" fill="#ff0000"/><rect x="724" y="219" width="3" height="19" fill="#ff4500"/>
<rect x="733" y="216" width="1" height="17" fill="#28c828"/>
<rect x="731" y="218" width="5" height="14" fill="#24c824"/><rect x="732" y="219" width="3" height="12" fill="#32cd32"/>
<rect x="741" y="221" width="1" height="32" fill="#28c828"/>
<rect x="739" y="236" width="5" height="6" fill="#24c824"/><rect x="740" y="237" width="3" height="4" fill="#32cd32"/>
<rect x="749" y="237" width="1" height="31" fill="#28c828"/>
<rect x="747" y="241" width="5" height="15" fill="#24c824"/><rect x="748" y="242" width="3" height="13" fill="#32cd32"/>
<rect x="757" y="250" width="1" height="22" fill="#28c828"/>
<rect x="755" y="255" width="5" height="5" fill="#24c824"/><rect x="756" y="256" width="3" height="3" fill="#32cd32"/>
<rect x="765" y="232" width="1" height="64" fill="#28c828"/>
<rect x="763" y="258" width="5" height="24" fill="#24c824"/><rect x="764" y="259" width="3" height="22" fill="#32cd32"/>
<rect x="773" y="224" width="1" height="79" fill="#ff0000"/>
<rect x="771" y="233" width="5" height="48" fill="#ff0000"/><rect x="772" y="234" width="3" height="46" fill="#ff4500"/>
<rect x="781" y="219" width="1" height="15" fill="#ff0000"/>
<rect x="779" y="222" width="5" height="12" fill="#ff0000"/><rect x="780" y="223" width="3" height="10" fill="#ff4500"/>
<rect x="789" y="203" width="1" height="32" fill="#28c828"/>
<rect x="787" y="222" width="5" height="10" fill="#24c824"/><rect x="788" y="223" width="3" height="8" fill="#32cd32"/>
<rect x="797" y="224" width="1" height="31" fill="#28c828"/>
<rect x="795" y="231" width="5" height="13" fill="#24c824"/><rect x="796" y="232" width="3" height="11" fill="#32cd32"/>
<rect x="805" y="202" width="1" height="46" fill="#ff0000"/>
<rect x="803" y="212" width="5" height="32" fill="#ff0000"/><rect x="804" y="213" width="3" height="30" fill="#ff4500"/>
<rect x="813" y="132" width="1" height="83" fill="#ff0000"/>
<rect x="811" y="136" width="5" height="76" fill="#ff0000"/><rect x="812" y="137" width="3" height="74" fill="#ff4500"/>
<rect x="821" y="134" width="1" height="44" fill="#28c828"/>
<rect x="819" y="136" width="5" height="25" fill="#24c824"/><rect x="820" y="137" width="3" height="23" fill="#32cd32"/>
<rect x="829" y="154" width="1" height="15" fill="#28c828"/>
<rect x="827" y="161" width="5" height="7" fill="#24c824"/><rect x="828" y="162" width="3" height="5" fill="#32cd32"/>
<rect x="837" y="164" width="1" height="34" fill="#28c828"/>
<rect x="835" y="167" width="5" height="25" fill="#24c824"/><rect x="836" y="168" width="3" height="23" fill="#32cd32"/>
<rect x="845" y="156" width="1" height="56" fill="#ff0000"/>
<rect x="843" y="179" width="5" height="13" fill="#ff0000"/><rect x="844" y="180" width="3" height="11" fill="#ff4500"/>
<rect x="853" y="170" width="1" height="97" fill="#28c828"/>
<rect x="851" y="179" width="5" height="79" fill="#24c824"/><rect x="852" y="180" width="3" height="77" fill="#32cd32"/>
<rect x="861" y="256" width="1" height="34" fill="#28c828"/>
<rect x="859" y="258" width="5" height="20" fill="#24c824"/><rect x="860" y="259" width="3" height="18" fill="#32cd32"/>
<rect x="869" y="275" width="1" height="40" fill="#28c828"/>
<rect x="867" y="277" width="5" height="14" fill="#24c824"/><rect x="868" y="278" width="3" height="12" fill="#32cd32"/>
<rect x="877" y="286" width="1" height="10" fill="#28c828"/>
<rect x="875" y="291" width="5" height="5" fill="#24c824"/><rect x="876" y="292" width="3" height="3" fill="#32cd32"/>
<rect x="885" y="277" width="1" height="38" fill="#28c828"/>
<rect x="883" y="291" width="5" height="20" fill="#24c824"/><rect x="884" y="292" width="3" height="18" fill="#32cd32"/>
<rect x="893" y="285" width="1" height="35" fill="#ff0000"/>
<rect x="891" y="292" width="5" height="19" fill="#ff0000"/><rect x="892" y="293" width="3" height="17" fill="#ff4500"/>
<rect x="901" y="255" width="1" height="38" fill="#ff0000"/>
<rect x="899" y="274" width="5" height="19" fill="#ff0000"/><rect x="900" y="275" width="3" height="17" fill="#ff4500"/>
<rect x="909" y="271" width="1" height="25" fill="#28c828"/>
<rect x="907" y="273" width="5" height="10" fill="#24c824"/><rect x="908" y="274" width="3" height="8" fill="#32cd32"/>
<rect x="725" y="189" width="266" height="2" fill="#fc2024"/>
<rect x="719" y="244" width="265" height="2" fill="#8cc800"/>
<rect x="613" y="365" width="372" height="2" fill="#1e82e0"/>
</g>
<g shape-rendering="crispEdges">
<line x1="6" y1="539.5" x2="1155" y2="539.5" stroke="#c0c0c0" stroke-width="1" stroke-dasharray="3 3"/>
<line x1="6" y1="581.5" x2="1155" y2="581.5" stroke="#c0c0c0" stroke-width="1" stroke-dasharray="3 3"/>
<path d="M234 537h4v1h-4zM229 538h5v1h-5zM238 538h1v1h-1zM228 539h1v1h-1zM239 539h1v1h-1zM299 539h3v1h-3zM226 540h2v1h-2zM239 540h1v1h-1zM296 540h3v1h-3zM302 540h1v1h-1zM225 541h1v1h-1zM240 541h1v1h-1zM293 541h3v1h-3zM303 541h1v1h-1zM405 541h5v1h-5zM813 541h1v1h-1zM223 542h2v1h-2zM241 542h1v1h-1zM292 542h1v1h-1zM304 542h1v1h-1zM404 542h1v1h-1zM410 542h4v1h-4zM812 542h1v1h-1zM814 542h1v1h-1zM222 543h1v1h-1zM242 543h1v1h-1zM290 543h2v1h-2zM305 543h2v1h-2zM403 543h1v1h-1zM414 543h1v1h-1zM812 543h1v1h-1zM815 543h2v1h-2zM220 544h2v1h-2zM243 544h1v1h-1zM289 544h1v1h-1zM307 544h1v1h-1zM401 544h2v1h-2zM414 544h1v1h-1zM811 544h1v1h-1zM817 544h1v1h-1zM217 545h3v1h-3zM243 545h1v1h-1zM287 545h2v1h-2zM308 545h1v1h-1zM400 545h1v1h-1zM415 545h1v1h-1zM810 545h1v1h-1zM818 545h2v1h-2zM215 546h2v1h-2zM244 546h1v1h-1zM286 546h1v1h-1zM309 546h1v1h-1zM381 546h3v1h-3zM399 546h1v1h-1zM415 546h1v1h-1zM682 546h16v1h-16zM810 546h1v1h-1zM820 546h1v1h-1zM195 547h5v1h-5zM211 547h4v1h-4zM245 547h2v1h-2zM285 547h1v1h-1zM310 547h1v1h-1zM380 547h1v1h-1zM384 547h3v1h-3zM398 547h1v1h-1zM416 547h1v1h-1zM674 547h8v1h-8zM698 547h4v1h-4zM809 547h1v1h-1zM821 547h5v1h-5zM192 548h3v1h-3zM200 548h3v1h-3zM208 548h3v1h-3zM247 548h1v1h-1zM284 548h1v1h-1zM311 548h1v1h-1zM380 548h1v1h-1zM387 548h11v1h-11zM416 548h1v1h-1zM668 548h6v1h-6zM702 548h2v1h-2zM808 548h1v1h-1zM826 548h4v1h-4zM189 549h3v1h-3zM203 549h5v1h-5zM248 549h3v1h-3zM282 549h2v1h-2zM312 549h1v1h-1zM379 549h1v1h-1zM417 549h1v1h-1zM665 549h3v1h-3zM704 549h2v1h-2zM808 549h1v1h-1zM830 549h1v1h-1zM189 550h1v1h-1zM251 550h1v1h-1zM281 550h1v1h-1zM313 550h2v1h-2zM379 550h1v1h-1zM417 550h1v1h-1zM663 550h2v1h-2zM706 550h1v1h-1zM807 550h1v1h-1zM831 550h2v1h-2zM188 551h1v1h-1zM252 551h3v1h-3zM279 551h2v1h-2zM315 551h1v1h-1zM378 551h1v1h-1zM418 551h1v1h-1zM661 551h2v1h-2zM707 551h2v1h-2zM806 551h1v1h-1zM833 551h1v1h-1zM188 552h1v1h-1zM255 552h1v1h-1zM278 552h1v1h-1zM316 552h1v1h-1zM378 552h1v1h-1zM418 552h1v1h-1zM660 552h1v1h-1zM709 552h1v1h-1zM806 552h1v1h-1zM834 552h2v1h-2zM843 552h3v1h-3zM187 553h1v1h-1zM256 553h3v1h-3zM275 553h3v1h-3zM317 553h11v1h-11zM377 553h1v1h-1zM419 553h1v1h-1zM658 553h2v1h-2zM710 553h2v1h-2zM724 553h3v1h-3zM805 553h1v1h-1zM836 553h1v1h-1zM840 553h3v1h-3zM846 553h1v1h-1zM187 554h1v1h-1zM259 554h1v1h-1zM272 554h3v1h-3zM328 554h3v1h-3zM376 554h1v1h-1zM419 554h1v1h-1zM657 554h1v1h-1zM712 554h2v1h-2zM723 554h1v1h-1zM727 554h2v1h-2zM779 554h5v1h-5zM804 554h1v1h-1zM837 554h3v1h-3zM846 554h1v1h-1zM186 555h1v1h-1zM260 555h12v1h-12zM331 555h4v1h-4zM376 555h1v1h-1zM420 555h1v1h-1zM644 555h4v1h-4zM655 555h2v1h-2zM714 555h1v1h-1zM720 555h3v1h-3zM729 555h3v1h-3zM776 555h3v1h-3zM784 555h3v1h-3zM803 555h1v1h-1zM847 555h1v1h-1zM186 556h1v1h-1zM335 556h1v1h-1zM375 556h1v1h-1zM420 556h1v1h-1zM641 556h3v1h-3zM648 556h3v1h-3zM654 556h1v1h-1zM715 556h2v1h-2zM719 556h1v1h-1zM732 556h3v1h-3zM773 556h3v1h-3zM787 556h4v1h-4zM801 556h2v1h-2zM847 556h1v1h-1zM185 557h1v1h-1zM336 557h3v1h-3zM375 557h1v1h-1zM421 557h1v1h-1zM639 557h2v1h-2zM651 557h3v1h-3zM717 557h2v1h-2zM735 557h2v1h-2zM772 557h1v1h-1zM791 557h1v1h-1zM800 557h1v1h-1zM848 557h1v1h-1zM185 558h1v1h-1zM339 558h1v1h-1zM354 558h6v1h-6zM374 558h1v1h-1zM422 558h1v1h-1zM635 558h4v1h-4zM737 558h3v1h-3zM772 558h1v1h-1zM792 558h3v1h-3zM799 558h1v1h-1zM848 558h1v1h-1zM185 559h1v1h-1zM340 559h14v1h-14zM360 559h3v1h-3zM374 559h1v1h-1zM423 559h1v1h-1zM632 559h3v1h-3zM740 559h3v1h-3zM771 559h1v1h-1zM795 559h1v1h-1zM798 559h1v1h-1zM849 559h1v1h-1zM184 560h1v1h-1zM363 560h11v1h-11zM424 560h1v1h-1zM629 560h3v1h-3zM743 560h1v1h-1zM771 560h1v1h-1zM796 560h2v1h-2zM850 560h1v1h-1zM184 561h1v1h-1zM425 561h1v1h-1zM629 561h1v1h-1zM744 561h3v1h-3zM770 561h1v1h-1zM850 561h1v1h-1zM173 562h1v1h-1zM183 562h1v1h-1zM425 562h1v1h-1zM468 562h10v1h-10zM628 562h1v1h-1zM747 562h1v1h-1zM769 562h1v1h-1zM851 562h1v1h-1zM69 563h5v1h-5zM172 563h1v1h-1zM174 563h2v1h-2zM183 563h1v1h-1zM426 563h1v1h-1zM465 563h3v1h-3zM478 563h1v1h-1zM628 563h1v1h-1zM748 563h4v1h-4zM769 563h1v1h-1zM851 563h1v1h-1zM68 564h1v1h-1zM74 564h8v1h-8zM100 564h3v1h-3zM171 564h1v1h-1zM176 564h2v1h-2zM182 564h1v1h-1zM427 564h1v1h-1zM463 564h2v1h-2zM479 564h1v1h-1zM628 564h1v1h-1zM752 564h3v1h-3zM768 564h1v1h-1zM852 564h1v1h-1zM67 565h1v1h-1zM82 565h5v1h-5zM99 565h1v1h-1zM103 565h2v1h-2zM171 565h1v1h-1zM178 565h1v1h-1zM182 565h1v1h-1zM428 565h1v1h-1zM434 565h8v1h-8zM460 565h3v1h-3zM480 565h1v1h-1zM627 565h1v1h-1zM755 565h4v1h-4zM767 565h1v1h-1zM852 565h1v1h-1zM900 565h4v1h-4zM66 566h1v1h-1zM87 566h2v1h-2zM96 566h3v1h-3zM105 566h3v1h-3zM170 566h1v1h-1zM179 566h3v1h-3zM429 566h5v1h-5zM442 566h5v1h-5zM459 566h1v1h-1zM481 566h1v1h-1zM627 566h1v1h-1zM759 566h1v1h-1zM767 566h1v1h-1zM853 566h2v1h-2zM897 566h3v1h-3zM904 566h3v1h-3zM65 567h1v1h-1zM89 567h3v1h-3zM95 567h1v1h-1zM108 567h2v1h-2zM169 567h1v1h-1zM181 567h1v1h-1zM447 567h2v1h-2zM456 567h3v1h-3zM482 567h1v1h-1zM627 567h1v1h-1zM760 567h3v1h-3zM766 567h1v1h-1zM855 567h2v1h-2zM895 567h2v1h-2zM907 567h3v1h-3zM64 568h1v1h-1zM92 568h3v1h-3zM110 568h2v1h-2zM168 568h1v1h-1zM449 568h3v1h-3zM455 568h1v1h-1zM483 568h1v1h-1zM498 568h8v1h-8zM514 568h4v1h-4zM626 568h1v1h-1zM763 568h1v1h-1zM766 568h1v1h-1zM857 568h3v1h-3zM893 568h2v1h-2zM50 569h6v1h-6zM63 569h1v1h-1zM112 569h2v1h-2zM155 569h4v1h-4zM167 569h1v1h-1zM452 569h3v1h-3zM484 569h1v1h-1zM490 569h8v1h-8zM506 569h8v1h-8zM518 569h1v1h-1zM626 569h1v1h-1zM764 569h2v1h-2zM860 569h4v1h-4zM891 569h2v1h-2zM44 570h6v1h-6zM56 570h3v1h-3zM62 570h1v1h-1zM114 570h1v1h-1zM152 570h3v1h-3zM159 570h2v1h-2zM167 570h1v1h-1zM485 570h5v1h-5zM519 570h1v1h-1zM626 570h1v1h-1zM864 570h3v1h-3zM890 570h1v1h-1zM41 571h3v1h-3zM59 571h3v1h-3zM115 571h2v1h-2zM140 571h12v1h-12zM161 571h3v1h-3zM166 571h1v1h-1zM520 571h1v1h-1zM625 571h1v1h-1zM867 571h13v1h-13zM888 571h2v1h-2zM39 572h2v1h-2zM117 572h3v1h-3zM137 572h3v1h-3zM164 572h2v1h-2zM521 572h1v1h-1zM625 572h1v1h-1zM880 572h3v1h-3zM886 572h2v1h-2zM34 573h5v1h-5zM120 573h3v1h-3zM135 573h2v1h-2zM521 573h1v1h-1zM625 573h1v1h-1zM883 573h3v1h-3zM29 574h5v1h-5zM123 574h12v1h-12zM522 574h1v1h-1zM624 574h1v1h-1zM28 575h1v1h-1zM523 575h1v1h-1zM624 575h1v1h-1zM26 576h2v1h-2zM524 576h1v1h-1zM624 576h1v1h-1zM25 577h1v1h-1zM525 577h2v1h-2zM623 577h1v1h-1zM23 578h2v1h-2zM527 578h2v1h-2zM587 578h7v1h-7zM623 578h1v1h-1zM22 579h1v1h-1zM529 579h3v1h-3zM584 579h3v1h-3zM594 579h12v1h-12zM623 579h1v1h-1zM18 580h4v1h-4zM532 580h3v1h-3zM564 580h3v1h-3zM580 580h4v1h-4zM606 580h2v1h-2zM622 580h1v1h-1zM11 581h7v1h-7zM535 581h1v1h-1zM563 581h1v1h-1zM567 581h2v1h-2zM577 581h3v1h-3zM608 581h2v1h-2zM622 581h1v1h-1zM8 582h3v1h-3zM536 582h3v1h-3zM560 582h3v1h-3zM569 582h3v1h-3zM575 582h2v1h-2zM610 582h1v1h-1zM622 582h1v1h-1zM5 583h3v1h-3zM539 583h1v1h-1zM546 583h8v1h-8zM559 583h1v1h-1zM572 583h3v1h-3zM611 583h2v1h-2zM621 583h1v1h-1zM540 584h6v1h-6zM554 584h5v1h-5zM613 584h9v1h-9z" fill="#1e90ff"/>
</g>
<g shape-rendering="crispEdges">
<rect x="0" y="635" width="1201" height="1" fill="#e6e6e6"/>
<rect x="0" y="638" width="1201" height="18" fill="#f0f0f0"/>
<rect x="2" y="638" width="1199" height="1" fill="#fff"/>
<rect x="0" y="656" width="1201" height="3" fill="#f9f9f9"/>
<rect x="0" y="659" width="1201" height="1" fill="#f0f0f0"/>
<rect x="0" y="660" width="1201" height="1" fill="#d8d8d8"/>
<rect x="0" y="661" width="1201" height="1" fill="#a6a6a6"/>
<rect x="0" y="637" width="1" height="19" fill="#a8a8a8"/><rect x="1" y="637" width="1" height="19" fill="#808080"/>
<rect x="111" y="636" width="102" height="19" fill="#fff"/>
<rect x="109" y="639" width="1" height="17" fill="#fff"/>
<rect x="2" y="637" width="109" height="1" fill="#000"/>
<rect x="110" y="637" width="1" height="19" fill="#000"/>
<rect x="110" y="655" width="104" height="1" fill="#000"/>
<rect x="213" y="637" width="1" height="19" fill="#000"/>
<rect x="213" y="637" width="988" height="1" fill="#000"/>
<rect x="314" y="640" width="1" height="14" fill="#606060"/>
<rect x="418" y="640" width="1" height="14" fill="#606060"/>
<rect x="510" y="640" width="1" height="14" fill="#606060"/>
<rect x="606" y="640" width="1" height="14" fill="#606060"/>
<rect x="698" y="640" width="1" height="14" fill="#606060"/>
<rect x="790" y="640" width="1" height="14" fill="#606060"/>
<rect x="878" y="640" width="1" height="14" fill="#606060"/>
<rect x="982" y="640" width="1" height="14" fill="#606060"/>
<rect x="1050" y="640" width="1" height="14" fill="#606060"/>
<rect x="1142" y="640" width="1" height="14" fill="#606060"/>
</g>
<text x="18.7" y="651.7" text-rendering="geometricPrecision" font-size="12.2" fill="#707070" stroke="#707070" stroke-width="0" textLength="78.8" lengthAdjust="spacingAndGlyphs">EURUSD,Daily</text>
<text x="121.2" y="651.7" text-rendering="geometricPrecision" font-size="12.2" fill="#000" stroke="#000" stroke-width="0" textLength="81.8" lengthAdjust="spacingAndGlyphs">AUDUSD,Daily</text>
<text x="224.5" y="651.7" text-rendering="geometricPrecision" font-size="12.2" fill="#707070" stroke="#707070" stroke-width="0" textLength="78.0" lengthAdjust="spacingAndGlyphs">USDCHF,Daily</text>
<text x="325.7" y="651.7" text-rendering="geometricPrecision" font-size="12.2" fill="#707070" stroke="#707070" stroke-width="0" textLength="80.3" lengthAdjust="spacingAndGlyphs">USDCAD,Daily</text>
<text x="428.7" y="651.7" text-rendering="geometricPrecision" font-size="12.2" fill="#707070" stroke="#707070" stroke-width="0" textLength="70.0" lengthAdjust="spacingAndGlyphs">USDCNH,H1</text>
<text x="520.7" y="651.7" text-rendering="geometricPrecision" font-size="12.2" fill="#707070" stroke="#707070" stroke-width="0" textLength="74.2" lengthAdjust="spacingAndGlyphs">USDJPY,Daily</text>
<text x="616.8" y="651.7" text-rendering="geometricPrecision" font-size="12.2" fill="#707070" stroke="#707070" stroke-width="0" textLength="68.7" lengthAdjust="spacingAndGlyphs">XAUUSD,H4</text>
<text x="710" y="651.7" text-rendering="geometricPrecision" font-size="12.2" fill="#707070" stroke="#707070" stroke-width="0" textLength="68" lengthAdjust="spacingAndGlyphs">GBPUSD,H1</text>
<text x="802.4" y="651.7" text-rendering="geometricPrecision" font-size="12.2" fill="#707070" stroke="#707070" stroke-width="0" textLength="63.2" lengthAdjust="spacingAndGlyphs">SP500,M15</text>
<text x="890.6" y="651.7" text-rendering="geometricPrecision" font-size="12.2" fill="#707070" stroke="#707070" stroke-width="0" textLength="79.2" lengthAdjust="spacingAndGlyphs">GBPUSD,Daily</text>
<text x="992.7" y="651.7" text-rendering="geometricPrecision" font-size="12.2" fill="#707070" stroke="#707070" stroke-width="0" textLength="45.7" lengthAdjust="spacingAndGlyphs">DJ30,H4</text>
<text x="1060.9" y="651.7" text-rendering="geometricPrecision" font-size="12.2" fill="#707070" stroke="#707070" stroke-width="0" textLength="69.1" lengthAdjust="spacingAndGlyphs">TECH100,H1</text>
<clipPath id="cu"><rect x="1150" y="638" width="15.5" height="18"/></clipPath>
<text x="1154.6" y="651.7" text-rendering="geometricPrecision" font-size="12.2" fill="#707070" clip-path="url(#cu)">UK100,H1</text>
<path d="M1174.3 642.8v6.4l-3.6-3.2z" fill="#8c8c8c"/>
<path d="M1189.6 642.8v6.4l3.7-3.2z" fill="#000"/>
</svg></body></html>
